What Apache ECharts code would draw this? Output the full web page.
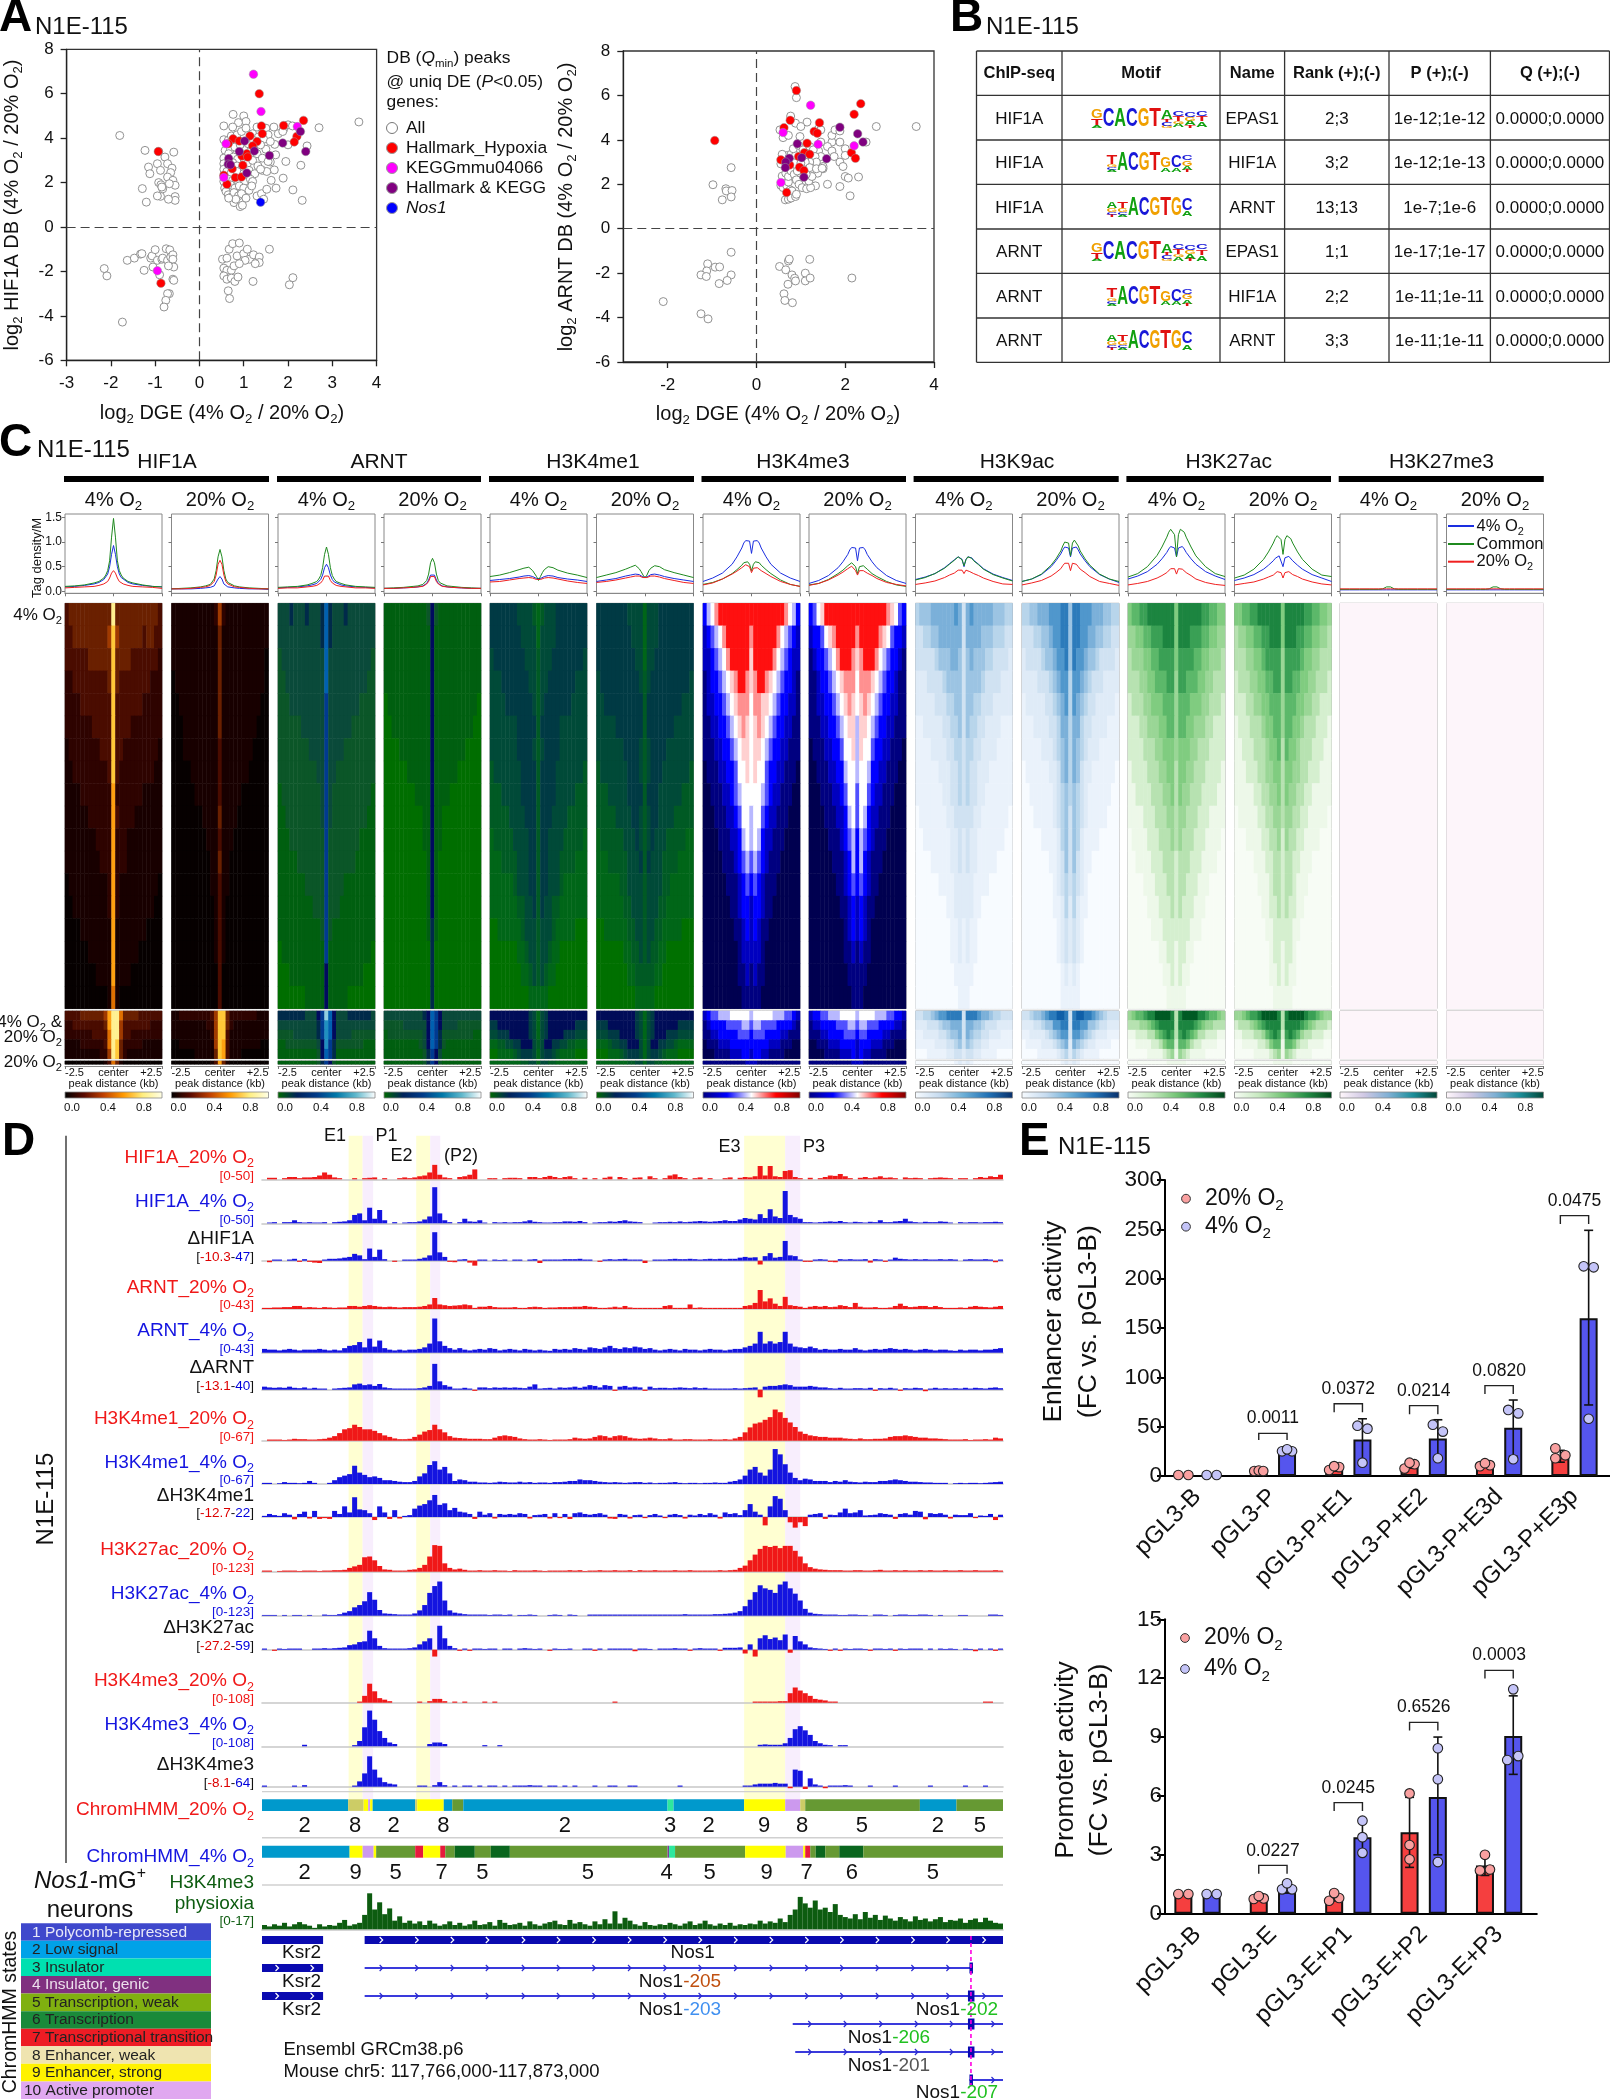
<!DOCTYPE html>
<html><head><meta charset="utf-8"><title>N1E-115</title>
<style>html,body{margin:0;padding:0;background:#fff}#c{width:1610px;height:2100px}</style>
<script src="https://cdn.jsdelivr.net/npm/echarts@6/dist/echarts.min.js"></script>
</head><body><div id="c"></div>
<script>
// ---------- Panel A: scatter values [log2 DGE, log2 DB] ----------
const a1Grey=[[-1.8,4.12],[-1.23,3.45],[-.92,3.4],[-.58,3.37],[-.78,3.15],[-1.15,2.7],[-.95,2.85],[-.72,2.85],[-.62,2.65],[-.88,2.55],[-.65,2.45],[-1.12,2.4],[-.72,2.25],[-.6,2.1],[-.55,1.88],[-.68,1.95],[-.92,2],[-.87,1.9],[-.83,1.72],[-1.29,1.73],[-.88,1.38],[-.95,1.4],[-.55,1.37],[-.55,1.2],[-.7,1.25],[-1.2,1.12],[-.85,1.8],
[-2.15,-1.87],[-2.09,-2.2],[-1.63,-1.5],[-1.47,-1.4],[-1.33,-1.22],[-1.3,-1.2],[-1.25,-1.95],[-1.1,-1.4],[-1.07,-1.3],[-1.05,-1.8],[-1,-1.02],[-.95,-1.5],[-.85,-1.45],[-.83,-1.4],[-.75,-.98],[-.67,-1.03],[-.72,-1.5],[-.65,-1.35],[-.6,-1.25],[-.6,-1.45],[-.58,-1.8],[-.7,-1.75],[-.9,-2.15],[-.6,-2.35],[-.58,-2.4],[-.68,-3],[-.72,-3],[-.76,-3.3],[-.8,-3.6],[-1.74,-4.28],
[.52,-1.45],[.62,-1.4],[.67,-1],[.75,-.75],[.9,-.72],[.85,-1.3],[1,-1.2],[1.08,-1],[1.13,-1.45],[1.03,-1.5],[1.22,-1.25],[1.35,-1.35],[1.35,-1.6],[1.26,-1.65],[1.58,-1],[.55,-1.85],[.62,-1.95],[.72,-1.95],[.78,-1.75],[.9,-1.65],[.55,-2.2],[.62,-2.35],[.72,-2.3],[.8,-2.45],[.87,-2.25],[1.21,-2.45],[.65,-2.87],[.68,-3.22],[2.03,-2.6],[2.11,-2.28],
[.76,5.07],[1,5],[1.05,4.75],[.88,4.7],[.55,4.55],[.75,4.5],[1.3,4.5],[1.5,4.45],[1.68,4.5],[1.9,4.4],[2,4.6],[2.1,4.55],[2.7,4.47],[3.6,4.73],[2.43,3.65],[2.29,2.78],[1.95,2.95],[1.89,2.2],[2.11,1.67],[2.32,1.2],[1.73,1.75],[1.62,2.1],[1.69,2.57],[1.6,2.93],[1.72,3.25],[1.7,3.72],[1.5,3.5],[1.55,4.15],[1.78,4.2],[1.88,4.3],[2,3.7],
[.55,3.93],[.65,3.9],[.72,4.1],[.85,4.15],[.95,4.3],[1.05,4.45],[1.2,4.2],[1.33,4.05],[1.45,3.95],[1.6,3.85],[.58,3.45],[.7,3.5],[.8,3.6],[.92,3.7],[1.1,3.75],[1.22,3.9],[1.38,3.7],[.55,3.1],[.66,3.3],[.77,3.15],[.86,3.05],[1,3.1],[1.15,3.4],[1.3,3.3],[1.42,3.1],[1.55,2.95],[.55,2.85],[.63,2.7],[.75,2.9],[.85,2.75],[.95,2.6],[1.08,2.85],[1.2,3],[1.32,2.75],[1.42,2.55],[1.52,2.5],[.55,2.6],[.62,2.5],[.72,2.45],[.85,2.5],[1,2.4],[1.12,2.55],[1.25,2.4],[1.38,2.6],[.55,2.05],[.65,2.15],[.75,2.1],[.88,2.05],[1.02,2.05],[1.15,2.15],[1.2,2.05],[.57,1.75],[.6,1.6],[.7,1.9],[.8,1.75],[.9,1.85],[1,1.75],[1.12,1.65],[1.18,1.85],[.65,1.45],[.72,1.35],[.78,1.55],[.88,1.4],[.95,1.5],[1.05,1.3],[.78,1.1],[.92,.92],[.97,.98],[.82,1.25],[.66,1.3],[1.3,1.4],[1.4,1.5],[1.45,1.25],[1.52,1.7]];
const a1Red=[[1.35,6],[1.4,4.55],[1.42,4.2],[1.14,4.1],[.76,3.97],[.65,3.75],[.9,3.87],[1.3,3.85],[1.2,3.65],[.96,3.2],[1.07,3.3],[1.09,3.15],[.98,2.78],[.74,2.62],[.81,2.23],[.95,2.25],[.55,2.33],[.62,1.92],[1.9,4.57],[2.35,4.8],[2.2,4.08],[2.14,3.83],[-.93,3.4],[-.87,-2.53]];
const a1Magenta=[[1.22,6.88],[1.39,5.2],[2.21,4.52],[.6,3.75],[.55,2.23],[-.95,-1.97]];
const a1Purple=[[2.28,4.3],[2.4,3.4],[1.88,3.78],[1.58,3.22],[1.24,3.42],[1.02,3.87],[.9,3.4],[.66,3.08],[.65,2.83],[.7,2.8],[1.07,2.43]];
const a1Blue=[[1.38,1.12]];
const a2Grey=[[-.57,2.75],[-.98,1.98],[-.69,1.8],[-.68,1.7],[-.55,1.72],[-.57,1.43],[-.77,1.3],
[-.57,-1.06],[-1.1,-1.58],[-1.12,-1.9],[-1.25,-2.08],[-1.13,-2.15],[-.93,-1.73],[-.83,-1.72],[-.57,-2.08],[-.66,-2.33],[-.84,-2.47],[-2.1,-3.28],[-1.25,-3.83],[-1.09,-4.06],
[.52,-1.7],[.66,-1.85],[.72,-1.45],[.74,-1.37],[1.2,-1.38],[.8,-2.08],[.86,-2.23],[.88,-2.35],[.71,-2.5],[1.1,-2],[1.1,-2.35],[1.21,-2.22],[2.15,-2.22],[.62,-2.93],[.64,-3.23],[.81,-3.33],
[.87,6.4],[.9,5.9],[.77,5.07],[.88,4.75],[1.14,4.8],[1,4.6],[.53,4.45],[.6,4.1],[.72,4.2],[.98,4.15],[1.4,4.5],[1.45,4.45],[1.45,3.9],[1.7,3.9],[1.6,3.7],[1.4,3.5],[1.45,3.25],[1.7,3.5],[1.75,3.25],[1.7,4.2],[1.77,4.45],[1.88,4.4],[1.88,3.9],[2,3.6],[2,3.3],[2.7,4.6],[3.6,4.6],[2.47,3.9],[1.88,3],[1.95,2.8],[2,2.35],[2.07,2.28],[2.3,2.33],[1.6,2],[1.88,1.9],[2.11,1.48],[1.33,1.93],[1.5,2.7],[1.5,2.8],[1.33,2.85],[1.38,2.65],[1.38,2.5],[1.2,2.6],
[.55,1.95],[.6,1.85],[.68,1.95],[.72,2.1],[.76,1.75],[.8,1.7],[.65,1.3],[.72,1.33],[.78,1.38],[.88,1.45],[.9,1.55],[.58,2.37],[.66,2.5],[.72,2.35],[.78,2.6],[.85,2.45],[.9,2.2],[.96,2],[1.03,1.85],[1.13,1.8],[1.22,1.85],[1.18,2.15],[1.25,2.35],[1.12,2.45],[1,2.5],[.55,2.92],[.62,3.05],[.7,3.3],[.78,3.35],[.88,3.3],[.58,3.35],[.83,3.6],[.95,3.75],[1.05,3.55],[1.2,3.7],[1.28,3.55],[1.32,3.25],[1.35,3],[1.2,3],[1.1,3],[1,2.95],[.92,2.6],[1.2,2.75],[1.35,2.7],[1.48,2.72]];
const a2Red=[[.9,6.22],[2.35,5.63],[2.2,5.15],[.76,4.88],[1.42,4.77],[.62,4.55],[1.3,4.38],[1.37,4.3],[1.14,3.85],[.95,3.25],[1.08,3.42],[1.2,3.35],[2.14,3.42],[2.23,3.17],[.55,3.1],[.75,2.87],[.97,2.77],[1.07,2.62],[.68,1.63],[-.94,3.97]];
const a2Magenta=[[1.22,5.56],[.6,4.33],[1.39,3.8],[2.2,3.73],[.55,2.08]];
const a2Purple=[[1.88,4.57],[2.28,4.27],[2.4,3.9],[.92,3.82],[.74,3.17],[.66,3],[.65,2.75],[1.02,3.2],[1.58,3.15],[1.07,2.32]];

// ---------- Panel B: table ----------
const tableHead=['ChIP-seq','Motif','Name','Rank (+);(-)','P (+);(-)','Q (+);(-)'];
const tableRows=[['HIF1A','EPAS1','2;3','1e-12;1e-12','0.0000;0.0000'],['HIF1A','HIF1A','3;2','1e-12;1e-13','0.0000;0.0000'],['HIF1A','ARNT','13;13','1e-7;1e-6','0.0000;0.0000'],['ARNT','EPAS1','1;1','1e-17;1e-17','0.0000;0.0000'],['ARNT','HIF1A','2;2','1e-11;1e-11','0.0000;0.0000'],['ARNT','ARNT','3;3','1e-11;1e-11','0.0000;0.0000']];
const motifEPAS=[[['G',.5],['T',.35],['A',.1]],[['C',1]],[['A',1]],[['C',1]],[['G',1]],[['T',1]],[['A',.5],['T',.1],['C',.2],['G',.1]],[['C',.3],['T',.25],['G',.15],['A',.2]],[['C',.3],['G',.2],['A',.25],['T',.1]],[['C',.3],['T',.3],['A',.3]]];
const motifHIF=[[['T',.5],['G',.15],['C',.15],['A',.1]],[['A',1]],[['C',1]],[['G',1]],[['T',1]],[['G',.55],['A',.2]],[['C',.6],['A',.2]],[['C',.3],['G',.3],['A',.2],['T',.1]]];
const motifARNT=[[['A',.35],['G',.2],['C',.15],['T',.1]],[['T',.35],['G',.2],['C',.15],['A',.1]],[['A',1]],[['C',1]],[['G',1]],[['T',1]],[['G',1]],[['C',.6],['A',.3]]];

// ---------- Panel C: average profiles, shared non-uniform x (kb) ----------
const profX=[-2.5,-2,-1.5,-1,-.75,-.5,-.4,-.3,-.2,-.1,0,.1,.2,.3,.4,.5,.75,1,1.5,2,2.5];
const prof_HIF1A_4_b=[.09,.1,.12,.15,.18,.24,.28,.35,.5,.75,.93,.75,.5,.35,.28,.24,.18,.15,.12,.1,.09];
const prof_HIF1A_4_g=[.1,.11,.13,.17,.2,.27,.33,.42,.62,1.1,1.48,1.1,.62,.42,.33,.27,.2,.17,.13,.1,.09];
const prof_HIF1A_4_r=[.07,.08,.09,.1,.12,.15,.17,.2,.27,.37,.42,.37,.27,.2,.17,.15,.12,.1,.09,.08,.06];
const prof_HIF1A_20_b=[.05,.05,.05,.06,.07,.08,.09,.11,.15,.25,.3,.25,.15,.11,.09,.08,.07,.06,.05,.05,.04];
const prof_HIF1A_20_g=[.05,.06,.07,.09,.11,.14,.18,.25,.42,.7,.85,.7,.42,.25,.18,.14,.11,.09,.07,.06,.05];
const prof_HIF1A_20_r=[.05,.05,.06,.08,.09,.12,.15,.2,.33,.55,.63,.55,.33,.2,.15,.12,.09,.08,.06,.05,.05];
const prof_ARNT_4_b=[.07,.08,.09,.11,.13,.16,.19,.24,.33,.48,.55,.48,.33,.24,.19,.16,.13,.11,.09,.08,.07];
const prof_ARNT_4_g=[.08,.09,.1,.13,.16,.2,.25,.32,.48,.75,.9,.75,.48,.32,.25,.2,.16,.13,.1,.09,.08];
const prof_ARNT_4_r=[.06,.07,.07,.09,.1,.12,.14,.17,.22,.31,.35,.31,.22,.17,.14,.12,.1,.09,.07,.07,.06];
const prof_ARNT_20_b=[.06,.06,.07,.08,.09,.11,.13,.16,.23,.33,.36,.33,.23,.16,.13,.11,.09,.08,.07,.06,.06];
const prof_ARNT_20_g=[.06,.07,.08,.1,.11,.14,.17,.22,.35,.58,.67,.58,.35,.22,.17,.14,.11,.1,.08,.07,.06];
const prof_ARNT_20_r=[.06,.06,.07,.08,.09,.1,.12,.15,.2,.3,.33,.3,.2,.15,.12,.1,.09,.08,.07,.06,.06];
const prof_me1_4_b=[.22,.24,.26,.29,.31,.32,.31,.3,.29,.26,.22,.26,.29,.3,.31,.32,.31,.28,.25,.23,.2];
const prof_me1_4_g=[.3,.33,.38,.44,.47,.49,.47,.42,.38,.3,.22,.3,.38,.44,.48,.5,.48,.43,.37,.33,.28];
const prof_me1_4_r=[.19,.2,.23,.26,.27,.28,.28,.27,.26,.24,.2,.24,.26,.27,.28,.28,.27,.25,.21,.18,.16];
const prof_me1_20_b=[.2,.23,.26,.31,.33,.35,.35,.34,.32,.29,.25,.29,.32,.34,.35,.35,.33,.3,.26,.23,.2];
const prof_me1_20_g=[.28,.33,.38,.45,.49,.53,.51,.46,.4,.33,.27,.33,.42,.47,.5,.52,.5,.44,.38,.33,.28];
const prof_me1_20_r=[.18,.2,.23,.27,.29,.31,.31,.31,.3,.28,.24,.28,.3,.31,.31,.31,.29,.26,.22,.18,.16];
const prof_me3_4_b=[.2,.27,.37,.55,.7,.88,.98,1.03,1.04,1.02,.77,1.02,1.04,1.03,.98,.88,.7,.55,.37,.27,.2];
const prof_me3_4_g=[.14,.18,.25,.36,.44,.53,.58,.6,.6,.55,.42,.55,.6,.6,.58,.53,.44,.36,.23,.14,.1];
const prof_me3_4_r=[.13,.17,.25,.35,.41,.48,.52,.54,.53,.5,.38,.47,.5,.48,.45,.42,.36,.3,.2,.14,.1];
const prof_me3_20_b=[.16,.22,.32,.48,.6,.75,.84,.89,.9,.88,.62,.88,.9,.89,.84,.75,.6,.48,.32,.22,.16];
const prof_me3_20_g=[.13,.16,.24,.36,.43,.52,.56,.58,.58,.5,.36,.5,.52,.52,.5,.45,.36,.3,.2,.13,.1];
const prof_me3_20_r=[.12,.16,.23,.33,.39,.46,.49,.51,.48,.42,.33,.42,.42,.42,.4,.37,.32,.26,.18,.14,.11];
const prof_K9_4_b=[.24,.29,.36,.48,.56,.64,.68,.7,.7,.65,.5,.65,.7,.7,.68,.63,.55,.46,.35,.28,.22];
const prof_K9_4_g=[.23,.28,.36,.47,.55,.63,.67,.7,.7,.64,.52,.64,.7,.7,.67,.62,.54,.45,.34,.27,.21];
const prof_K9_4_r=[.14,.17,.21,.28,.33,.37,.4,.43,.44,.43,.36,.43,.42,.4,.38,.36,.32,.27,.2,.15,.14];
const prof_K9_20_b=[.2,.25,.34,.5,.62,.76,.84,.9,.92,.88,.7,.88,.92,.9,.84,.76,.62,.5,.34,.25,.18];
const prof_K9_20_g=[.2,.25,.35,.53,.66,.82,.92,1,1.04,.98,.72,.98,1.04,1,.92,.82,.66,.53,.35,.25,.2];
const prof_K9_20_r=[.13,.17,.22,.31,.38,.46,.52,.57,.6,.57,.42,.57,.58,.55,.5,.45,.38,.3,.2,.16,.12];
const prof_K27_4_b=[.25,.31,.4,.55,.66,.79,.86,.91,.92,.88,.7,.88,.92,.91,.86,.79,.66,.55,.4,.31,.24];
const prof_K27_4_g=[.29,.36,.5,.73,.9,1.1,1.2,1.26,1.26,1.15,.7,1.15,1.26,1.26,1.2,1.1,.9,.72,.5,.36,.3];
const prof_K27_4_r=[.13,.16,.2,.27,.32,.38,.42,.46,.48,.46,.35,.46,.49,.45,.42,.38,.32,.25,.18,.14,.12];
const prof_K27_20_b=[.22,.27,.34,.45,.53,.62,.67,.71,.72,.68,.5,.68,.72,.71,.67,.62,.53,.45,.34,.27,.2];
const prof_K27_20_g=[.27,.33,.45,.65,.8,.98,1.07,1.13,1.13,1.05,.75,1.05,1.13,1.13,1.07,.98,.8,.65,.45,.33,.3];
const prof_K27_20_r=[.13,.16,.19,.25,.29,.33,.37,.4,.41,.38,.27,.38,.42,.4,.37,.34,.3,.25,.19,.15,.13];
const prof_me3K27_b=[.03,.03,.03,.03,.03,.03,.03,.03,.03,.03,.04,.03,.03,.03,.03,.03,.03,.03,.03,.03,.03];
const prof_me3K27_g=[.04,.04,.04,.04,.04,.04,.04,.05,.07,.09,.11,.09,.07,.05,.04,.04,.04,.04,.04,.04,.04];
const prof_me3K27_r=[.05,.05,.05,.05,.05,.05,.05,.05,.05,.05,.05,.05,.05,.05,.05,.05,.05,.05,.05,.05,.05];

// ---------- Panel C: heatmaps (levels 0-9, rows top to bottom, columns -2.5..+2.5 kb) ----------
const heat_HIF1A_4=[[3,4,4,4,4,4,4,4,4,4,4,4,9,4,4,4,4,4,4,4,4,4,4,4,3],[3,3,4,4,4,4,4,4,4,4,4,5,8,5,4,4,4,4,4,4,3,4,4,3,3],[3,3,3,3,3,3,4,4,4,4,4,4,8,4,4,4,4,3,3,3,3,3,3,3,2],[2,2,3,3,3,3,3,3,3,3,3,4,8,4,3,3,3,3,3,3,3,3,2,2,2],[2,2,2,2,3,3,3,3,3,3,3,3,8,3,3,3,3,3,3,3,2,2,2,2,2],[2,2,2,2,2,2,2,3,3,3,3,3,8,3,3,3,3,2,2,2,2,2,2,2,2],[1,2,2,2,2,2,2,2,2,3,3,3,8,3,3,2,2,2,2,2,2,2,2,2,1],[1,1,2,2,2,2,2,2,2,2,2,3,8,3,2,2,2,2,2,2,2,2,2,1,1],[1,1,1,1,2,2,2,2,2,2,2,2,7,2,2,2,2,2,2,2,1,1,1,1,1],[1,1,1,1,1,1,2,2,2,2,2,2,7,3,2,2,2,2,1,1,1,1,1,1,1],[1,1,1,1,1,1,1,1,2,2,2,2,7,2,2,2,1,1,1,1,1,1,1,1,1],[1,1,1,1,1,1,1,1,1,2,2,2,7,2,2,2,1,1,1,1,1,1,1,1,1],[0,1,1,1,1,1,1,1,1,1,1,2,7,2,1,1,1,1,1,1,1,1,1,1,0],[0,0,1,1,1,1,1,1,1,1,1,2,7,2,1,1,1,1,1,1,1,1,1,0,0],[0,0,0,0,1,1,1,1,1,1,1,1,7,1,1,1,1,1,1,1,1,0,0,0,0],[0,0,0,0,0,0,1,1,1,1,1,1,7,1,1,1,1,1,1,0,0,0,0,0,0],[0,0,0,0,0,0,0,0,1,1,1,1,7,1,1,1,1,0,0,0,0,0,0,0,0],[0,0,0,0,0,0,0,0,0,0,0,1,6,1,0,0,0,0,0,0,0,0,0,0,0]];
const heat_HIF1A_20=[[1,1,1,1,1,1,1,1,1,1,1,2,5,2,1,1,1,1,1,1,1,1,1,1,1],[1,1,1,1,1,1,1,1,1,1,1,1,4,1,1,1,1,1,1,1,1,1,1,1,1],[1,1,1,1,1,1,1,1,1,1,1,1,4,1,1,1,1,1,1,1,1,1,1,1,0],[0,1,1,1,1,1,1,1,1,1,1,1,4,1,1,1,1,1,1,1,1,1,1,1,0],[0,0,1,1,1,1,1,1,1,1,1,1,4,1,1,1,1,1,1,1,1,1,1,0,0],[0,0,0,1,1,1,1,1,1,1,1,1,4,1,1,1,1,1,1,1,1,1,0,0,0],[0,0,0,1,1,1,1,1,1,1,1,1,3,1,1,1,1,1,1,1,1,0,0,0,0],[0,0,0,0,0,1,1,1,1,1,1,1,3,1,1,1,1,1,1,1,0,0,0,0,0],[0,0,0,0,0,0,1,1,1,1,1,1,3,1,1,1,1,1,0,0,0,0,0,0,0],[0,0,0,0,0,0,0,0,1,1,1,1,4,1,1,1,1,0,0,0,0,0,0,0,0],[0,0,0,0,0,0,0,0,0,1,1,1,3,1,1,1,0,0,0,0,0,0,0,0,0],[0,0,0,0,0,0,0,0,0,0,1,1,4,1,1,0,0,0,0,0,0,0,0,0,0],[0,0,0,0,0,0,0,0,0,0,1,1,3,1,1,0,0,0,0,0,0,0,0,0,0],[0,0,0,0,0,0,0,0,0,0,0,1,3,1,0,0,0,0,0,0,0,0,0,0,0],[0,0,0,0,0,0,0,0,0,0,0,1,3,1,0,0,0,0,0,0,0,0,0,0,0],[0,0,0,0,0,0,0,0,0,0,0,1,3,1,0,0,0,0,0,0,0,0,0,0,0],[0,0,0,0,0,0,0,0,0,0,0,0,3,0,0,0,0,0,0,0,0,0,0,0,0],[0,0,0,0,0,0,0,0,0,0,0,0,3,0,0,0,0,0,0,0,0,0,0,0,0]];
const heat_ARNT_4=[[3,3,3,4,3,3,3,4,3,3,3,4,7,4,3,3,3,4,3,3,3,3,3,3,3],[3,3,3,3,3,3,3,3,3,3,3,4,7,4,3,3,3,3,3,3,3,3,3,3,3],[2,3,3,3,3,3,3,3,3,3,3,3,7,3,3,3,3,3,3,3,3,3,3,3,2],[2,2,3,3,3,3,3,3,3,3,3,3,7,3,3,3,3,3,3,3,3,3,3,2,2],[2,2,2,3,3,3,3,3,3,3,3,3,6,3,3,3,3,3,3,3,3,2,2,2,2],[2,2,2,2,2,2,3,3,3,3,3,3,6,3,3,3,3,3,3,2,2,2,2,2,2],[2,2,2,2,2,2,2,2,3,3,3,3,6,3,3,3,3,2,2,2,2,2,2,2,2],[2,2,2,2,2,2,2,2,2,2,3,3,6,3,3,2,2,2,2,2,2,2,2,2,2],[1,2,2,2,2,2,2,2,2,2,2,3,6,3,2,2,2,2,2,2,2,2,2,2,1],[1,1,2,2,2,2,2,2,2,2,2,3,6,3,2,2,2,2,2,2,2,2,2,1,1],[1,1,1,2,2,2,2,2,2,2,2,2,6,2,2,2,2,2,2,2,2,1,1,1,1],[1,1,1,1,1,2,2,2,2,2,2,2,6,2,2,2,2,2,2,2,1,1,1,1,1],[1,1,1,1,1,1,1,2,2,2,2,2,6,2,2,2,2,1,1,1,1,1,1,1,1],[1,1,1,1,1,1,1,1,1,2,2,2,6,2,2,2,1,1,1,1,1,1,1,1,1],[1,1,1,1,1,1,1,1,1,1,1,2,6,2,1,1,1,1,1,1,1,1,1,1,1],[0,1,1,1,1,1,1,1,1,1,1,1,6,1,1,1,1,1,1,1,1,1,1,1,0],[0,0,0,1,1,1,1,1,1,1,1,1,5,1,1,1,1,1,1,1,1,1,0,0,0],[0,0,0,0,0,0,0,1,1,1,1,1,5,1,1,1,1,1,0,0,0,0,0,0,0]];
const heat_ARNT_20=[[1,1,1,1,1,1,1,1,1,1,1,2,5,2,1,1,1,1,1,1,1,1,1,1,1],[1,1,1,1,1,1,1,1,1,1,1,1,5,1,1,1,1,1,1,1,1,1,1,1,1],[1,1,1,1,1,1,1,1,1,1,1,1,5,1,1,1,1,1,1,1,1,1,1,1,1],[1,1,1,1,1,1,1,1,1,1,1,1,5,1,1,1,1,1,1,1,1,1,1,1,1],[0,1,1,1,1,1,1,1,1,1,1,1,5,1,1,1,1,1,1,1,1,1,1,1,0],[0,0,1,1,1,1,1,1,1,1,1,1,5,1,1,1,1,1,1,1,1,1,1,0,0],[0,0,0,0,1,1,1,1,1,1,1,1,5,1,1,1,1,1,1,1,1,0,0,0,0],[0,0,0,0,0,0,1,1,1,1,1,1,5,1,1,1,1,1,1,0,0,0,0,0,0],[0,0,0,0,0,0,0,0,1,1,1,1,5,1,1,1,1,0,0,0,0,0,0,0,0],[0,0,0,0,0,0,0,0,0,0,1,1,5,1,1,0,0,0,0,0,0,0,0,0,0],[0,0,0,0,0,0,0,0,0,0,1,1,5,1,1,0,0,0,0,0,0,0,0,0,0],[0,0,0,0,0,0,0,0,0,0,0,1,5,1,0,0,0,0,0,0,0,0,0,0,0],[0,0,0,0,0,0,0,0,0,0,0,1,5,1,0,0,0,0,0,0,0,0,0,0,0],[0,0,0,0,0,0,0,0,0,0,0,1,5,1,0,0,0,0,0,0,0,0,0,0,0],[0,0,0,0,0,0,0,0,0,0,0,1,4,1,0,0,0,0,0,0,0,0,0,0,0],[0,0,0,0,0,0,0,0,0,0,0,0,4,0,0,0,0,0,0,0,0,0,0,0,0],[0,0,0,0,0,0,0,0,0,0,0,0,4,0,0,0,0,0,0,0,0,0,0,0,0],[0,0,0,0,0,0,0,0,0,0,0,0,4,0,0,0,0,0,0,0,0,0,0,0,0]];
const heat_me1_4=[[4,4,4,4,4,4,4,3,3,3,3,2,1,2,3,3,3,4,4,4,4,4,4,4,4],[4,4,4,4,4,4,4,4,3,3,3,3,1,3,3,3,3,4,4,4,4,4,4,4,4],[3,4,4,4,4,4,4,4,4,3,3,3,2,3,3,3,4,4,4,4,4,4,4,4,3],[3,3,3,4,4,4,4,4,4,4,3,3,2,3,3,4,4,4,4,4,4,4,3,3,3],[3,3,3,3,4,4,4,4,4,4,4,3,2,3,4,4,4,4,4,4,4,3,3,3,3],[3,3,3,3,3,3,3,4,4,4,4,4,2,4,4,4,4,4,3,3,3,3,3,3,3],[3,3,3,3,3,3,3,4,4,4,4,3,2,3,4,4,4,4,3,3,3,3,3,3,3],[2,3,3,3,3,3,3,3,4,4,4,4,2,4,4,4,4,3,3,3,3,3,3,3,2],[2,2,2,3,3,3,3,3,4,4,4,4,2,4,4,4,4,3,3,3,3,3,2,2,2],[2,2,2,2,2,3,3,3,3,4,4,4,2,4,4,4,3,3,3,3,2,2,2,2,2],[1,2,2,2,2,2,3,3,3,3,4,4,2,4,4,3,3,3,3,2,2,2,2,2,1],[1,1,1,2,2,2,2,3,3,3,4,4,2,4,4,3,3,3,2,2,2,2,1,1,1],[1,1,1,1,1,1,2,3,3,3,4,4,2,4,4,3,3,3,2,1,1,1,1,1,1],[1,1,1,1,1,1,1,2,2,3,3,4,2,4,3,3,2,2,1,1,1,1,1,1,1],[0,0,1,1,1,1,1,1,2,3,3,3,2,3,3,3,2,1,1,1,1,1,0,0,0],[0,0,0,0,0,0,0,1,1,2,3,3,2,3,3,2,1,1,0,0,0,0,0,0,0],[0,0,0,0,0,0,0,0,1,1,2,3,2,3,2,1,1,0,0,0,0,0,0,0,0],[0,0,0,0,0,0,0,0,0,0,1,1,1,1,1,0,0,0,0,0,0,0,0,0,0]];
const heat_me1_20=[[4,4,4,4,4,4,4,4,3,3,3,3,1,3,3,3,4,4,4,4,4,4,4,4,4],[4,4,4,4,4,4,4,4,4,3,3,3,1,3,3,3,4,4,4,4,4,4,4,4,4],[4,4,4,4,4,4,4,4,4,4,3,3,1,3,3,4,4,4,4,4,4,4,4,4,4],[3,4,4,4,4,4,4,4,4,4,4,3,2,3,4,4,4,4,4,4,4,4,4,4,3],[3,3,4,4,4,4,4,4,4,4,4,4,2,4,4,4,4,4,4,4,4,4,3,3,3],[3,3,3,3,3,4,4,4,4,4,4,4,2,4,4,4,4,4,4,4,3,3,3,3,3],[3,3,3,3,3,3,3,4,4,4,4,3,2,3,4,4,4,4,3,3,3,3,3,3,3],[2,3,3,3,3,3,3,3,4,4,4,3,2,3,4,4,4,3,3,3,3,3,3,3,2],[2,2,2,3,3,3,3,3,4,4,4,4,2,4,4,4,3,3,3,3,3,3,2,2,2],[2,2,2,2,2,3,3,3,3,4,4,3,2,3,4,4,3,3,3,3,2,2,2,2,2],[1,2,2,2,2,2,2,3,3,3,4,3,2,3,4,3,3,3,2,2,2,2,2,1,1],[1,1,1,2,2,2,2,2,3,3,3,4,2,4,3,3,3,2,2,2,2,1,1,1,1],[1,1,1,1,1,1,2,2,3,3,3,3,2,3,3,3,3,2,2,1,1,1,1,1,1],[1,1,1,1,1,1,1,2,2,3,3,3,2,3,3,3,2,2,1,1,1,1,1,1,1],[0,0,1,1,1,1,1,1,2,2,3,3,2,3,3,2,2,1,1,1,1,1,0,0,0],[0,0,0,0,0,0,0,1,1,2,2,3,2,3,2,2,1,1,0,0,0,0,0,0,0],[0,0,0,0,0,0,0,0,1,1,2,2,2,2,2,1,1,0,0,0,0,0,0,0,0],[0,0,0,0,0,0,0,0,0,0,1,1,1,1,1,0,0,0,0,0,0,0,0,0,0]];
const heat_me3_4=[[3,5,6,8,9,9,9,9,9,9,9,9,9,9,9,9,9,9,9,9,9,8,6,5,3],[2,3,4,5,6,8,9,9,9,9,9,9,8,9,9,9,9,9,9,8,6,5,4,3,2],[2,2,3,4,5,6,8,9,9,9,9,9,7,9,9,9,9,9,8,6,5,4,3,2,2],[1,2,3,3,4,5,6,7,8,9,9,8,7,8,9,9,8,7,6,5,4,3,3,2,1],[1,2,2,3,3,4,5,6,7,8,8,8,6,8,8,7,7,6,5,4,3,3,2,2,1],[1,1,2,2,3,3,4,5,6,7,8,7,6,7,8,7,6,5,4,3,3,2,2,1,1],[1,1,1,2,2,3,3,4,5,6,7,7,6,7,7,6,5,4,3,3,2,2,1,1,1],[0,1,1,1,2,2,3,3,4,6,6,7,6,7,6,6,4,3,3,2,2,1,1,1,0],[0,0,1,1,1,2,2,3,4,5,6,6,6,6,6,5,4,3,2,2,1,1,1,0,0],[0,0,0,1,1,1,2,2,3,4,6,6,5,6,6,4,3,2,2,1,1,1,0,0,0],[0,0,0,0,1,1,1,2,2,3,5,6,5,6,5,3,2,2,1,1,1,0,0,0,0],[0,0,0,0,0,1,1,1,2,3,4,5,4,5,4,3,2,1,1,1,0,0,0,0,0],[0,0,0,0,0,0,1,1,1,2,3,4,3,4,3,2,1,1,1,0,0,0,0,0,0],[0,0,0,0,0,0,0,1,1,2,3,3,2,3,3,2,1,1,0,0,0,0,0,0,0],[0,0,0,0,0,0,0,0,1,1,2,3,2,3,2,1,1,0,0,0,0,0,0,0,0],[0,0,0,0,0,0,0,0,0,1,2,2,2,2,2,1,0,0,0,0,0,0,0,0,0],[0,0,0,0,0,0,0,0,0,1,1,2,1,2,1,1,0,0,0,0,0,0,0,0,0],[0,0,0,0,0,0,0,0,0,0,1,1,1,1,1,0,0,0,0,0,0,0,0,0,0]];
const heat_me3_20=[[3,4,6,7,9,9,9,9,9,9,9,9,9,9,9,9,9,9,9,9,8,7,6,4,3],[2,3,3,4,6,7,8,9,9,9,9,9,8,9,9,9,9,9,8,7,6,4,3,3,2],[1,2,3,3,4,5,6,8,9,9,9,8,7,8,9,9,9,8,6,5,4,3,3,2,1],[1,1,2,3,3,4,5,6,7,8,8,8,6,8,8,8,7,6,5,4,3,3,2,1,1],[1,1,2,2,3,3,4,5,6,7,8,7,6,7,8,7,6,5,4,3,3,2,2,1,1],[1,1,1,2,2,3,3,4,5,6,7,7,5,7,7,6,5,4,3,3,2,2,1,1,1],[0,1,1,1,2,2,3,3,4,6,6,7,5,7,6,6,4,3,3,2,2,1,1,1,0],[0,0,1,1,1,2,2,3,3,5,6,6,5,6,6,5,3,3,2,2,1,1,1,0,0],[0,0,0,1,1,1,2,2,3,4,6,6,4,6,6,4,3,2,2,1,1,1,0,0,0],[0,0,0,0,1,1,1,2,2,3,5,6,4,6,5,3,2,2,1,1,1,0,0,0,0],[0,0,0,0,0,1,1,1,2,3,4,5,3,5,4,3,2,1,1,1,0,0,0,0,0],[0,0,0,0,0,0,1,1,1,2,3,5,3,5,3,2,1,1,1,0,0,0,0,0,0],[0,0,0,0,0,0,0,1,1,2,3,4,3,4,3,2,1,1,0,0,0,0,0,0,0],[0,0,0,0,0,0,0,0,1,1,2,3,2,3,2,1,1,0,0,0,0,0,0,0,0],[0,0,0,0,0,0,0,0,0,1,2,3,2,3,2,1,0,0,0,0,0,0,0,0,0],[0,0,0,0,0,0,0,0,0,1,1,2,1,2,1,1,0,0,0,0,0,0,0,0,0],[0,0,0,0,0,0,0,0,0,0,1,1,1,1,1,0,0,0,0,0,0,0,0,0,0],[0,0,0,0,0,0,0,0,0,0,0,1,1,1,0,0,0,0,0,0,0,0,0,0,0]];
const heat_K9_4=[[4,5,5,5,6,6,6,6,6,6,7,6,3,6,7,6,6,6,6,6,5,5,5,4,4],[3,3,4,4,5,5,6,6,6,6,6,6,3,6,6,6,6,5,5,5,4,4,4,3,3],[3,3,3,3,3,4,5,5,5,6,6,5,3,5,6,5,5,5,4,4,3,3,3,3,2],[2,2,2,3,3,3,3,4,5,5,5,5,3,5,5,5,5,4,3,3,3,3,2,2,2],[2,2,2,2,2,3,3,3,4,4,5,5,3,5,5,4,4,3,3,3,2,2,2,2,2],[1,1,2,2,2,2,2,3,3,4,4,5,3,5,4,4,3,3,2,2,2,2,1,1,1],[1,1,1,1,2,2,2,2,3,3,4,4,3,4,4,3,3,2,2,2,2,1,1,1,1],[1,1,1,1,1,1,2,2,2,3,3,4,3,4,3,3,2,2,2,1,1,1,1,1,1],[1,1,1,1,1,1,1,2,2,3,3,4,3,4,3,3,2,2,1,1,1,1,1,1,1],[0,1,1,1,1,1,1,1,2,2,3,3,3,3,3,2,2,1,1,1,1,1,1,1,0],[0,0,1,1,1,1,1,1,1,2,2,3,2,3,2,2,1,1,1,1,1,1,1,0,0],[0,0,0,0,1,1,1,1,1,2,2,3,2,3,2,2,1,1,1,1,1,0,0,0,0],[0,0,0,0,0,0,1,1,1,1,2,2,2,2,2,1,1,1,1,0,0,0,0,0,0],[0,0,0,0,0,0,0,0,1,1,2,2,2,2,2,1,1,0,0,0,0,0,0,0,0],[0,0,0,0,0,0,0,0,0,1,1,2,1,2,1,1,0,0,0,0,0,0,0,0,0],[0,0,0,0,0,0,0,0,0,1,1,2,1,2,1,1,0,0,0,0,0,0,0,0,0],[0,0,0,0,0,0,0,0,0,0,1,1,1,1,1,0,0,0,0,0,0,0,0,0,0],[0,0,0,0,0,0,0,0,0,0,0,1,1,1,0,0,0,0,0,0,0,0,0,0,0]];
const heat_K9_20=[[4,4,5,5,6,6,6,7,7,7,8,8,5,8,8,7,7,7,6,6,6,5,5,4,4],[3,3,3,4,4,5,5,6,7,7,8,8,5,8,8,7,7,6,6,5,5,4,4,3,3],[2,3,3,3,3,4,5,5,6,7,7,8,5,8,7,7,6,5,5,4,3,3,3,3,2],[2,2,2,2,3,3,3,4,5,6,7,7,4,7,7,6,5,4,3,3,3,2,2,2,2],[1,2,2,2,2,2,3,3,4,5,6,7,4,7,6,5,4,3,3,2,2,2,2,2,1],[1,1,1,2,2,2,2,3,3,4,6,6,4,6,6,4,3,3,2,2,2,2,1,1,1],[1,1,1,1,1,2,2,2,3,4,5,6,4,6,5,4,3,2,2,2,1,1,1,1,1],[0,1,1,1,1,1,1,2,2,3,5,6,4,6,5,3,2,2,1,1,1,1,1,1,0],[0,0,1,1,1,1,1,1,2,3,4,5,4,5,4,3,2,1,1,1,1,1,1,0,0],[0,0,0,1,1,1,1,1,2,3,4,5,3,5,4,3,2,1,1,1,1,1,0,0,0],[0,0,0,0,0,1,1,1,1,2,4,5,3,5,4,2,1,1,1,1,0,0,0,0,0],[0,0,0,0,0,0,0,1,1,2,3,5,3,5,3,2,1,1,0,0,0,0,0,0,0],[0,0,0,0,0,0,0,0,1,2,3,4,3,4,3,2,1,0,0,0,0,0,0,0,0],[0,0,0,0,0,0,0,0,1,1,2,4,2,4,2,1,1,0,0,0,0,0,0,0,0],[0,0,0,0,0,0,0,0,0,1,2,3,2,3,2,1,0,0,0,0,0,0,0,0,0],[0,0,0,0,0,0,0,0,0,1,2,3,2,3,2,1,0,0,0,0,0,0,0,0,0],[0,0,0,0,0,0,0,0,0,0,1,2,1,2,1,0,0,0,0,0,0,0,0,0,0],[0,0,0,0,0,0,0,0,0,0,1,1,1,1,1,0,0,0,0,0,0,0,0,0,0]];
const heat_K27_4=[[5,6,6,7,7,8,8,8,8,8,8,8,5,8,8,8,8,8,8,7,7,6,6,5,5],[4,4,5,5,6,6,7,7,7,8,8,8,5,8,8,8,7,7,7,6,6,5,5,4,4],[3,4,4,4,5,5,6,6,7,7,7,7,5,7,7,7,7,6,6,5,5,4,4,4,3],[3,3,3,4,4,5,5,6,6,6,7,7,4,7,7,6,6,6,5,5,4,4,3,3,3],[2,3,3,3,4,4,5,5,5,6,6,6,4,6,6,6,5,5,5,4,4,3,3,3,2],[2,2,2,3,3,4,4,4,5,5,6,6,4,6,6,5,5,4,4,4,3,3,2,2,2],[2,2,2,2,3,3,3,4,4,5,5,5,4,5,5,5,4,4,3,3,3,2,2,2,2],[1,2,2,2,2,3,3,3,4,4,5,5,3,5,5,4,4,3,3,3,2,2,2,2,1],[1,1,2,2,2,2,3,3,3,4,4,5,3,5,4,4,3,3,3,2,2,2,2,1,1],[1,1,1,1,2,2,2,3,3,3,4,4,3,4,4,3,3,3,2,2,2,1,1,1,1],[0,1,1,1,1,2,2,2,3,3,3,4,3,4,3,3,3,2,2,2,1,1,1,1,0],[0,0,1,1,1,1,2,2,2,3,3,3,2,3,3,3,2,2,2,1,1,1,1,0,0],[0,0,0,0,1,1,1,2,2,2,3,3,2,3,3,2,2,2,1,1,1,0,0,0,0],[0,0,0,0,0,1,1,1,2,2,2,3,2,3,2,2,2,1,1,1,0,0,0,0,0],[0,0,0,0,0,0,1,1,1,2,2,2,2,2,2,2,1,1,1,0,0,0,0,0,0],[0,0,0,0,0,0,0,0,1,1,2,2,1,2,2,1,1,0,0,0,0,0,0,0,0],[0,0,0,0,0,0,0,0,0,1,1,2,1,2,1,1,0,0,0,0,0,0,0,0,0],[0,0,0,0,0,0,0,0,0,0,1,1,1,1,1,0,0,0,0,0,0,0,0,0,0]];
const heat_K27_20=[[5,5,6,6,7,7,8,8,8,8,8,8,5,8,8,8,8,8,7,7,6,6,5,5,4],[3,4,4,5,5,6,6,7,7,8,8,8,5,8,8,8,7,7,6,6,5,5,4,4,3],[3,3,3,4,4,5,5,6,7,7,7,7,4,7,7,7,7,6,5,5,4,4,3,3,3],[2,3,3,3,4,4,5,5,6,6,7,7,4,7,7,6,6,5,5,4,4,3,3,3,2],[2,2,2,3,3,4,4,5,5,6,6,6,4,6,6,6,5,5,4,4,3,3,2,2,2],[1,2,2,2,3,3,3,4,5,5,6,6,4,6,6,5,5,4,3,3,3,2,2,2,1],[1,1,2,2,2,3,3,3,4,5,5,6,3,6,5,5,4,3,3,3,2,2,2,1,1],[1,1,1,2,2,2,3,3,4,4,5,5,3,5,5,4,4,3,3,2,2,2,1,1,1],[1,1,1,1,1,2,2,3,3,4,4,5,3,5,4,4,3,3,2,2,1,1,1,1,1],[0,1,1,1,1,1,2,2,3,3,4,4,3,4,4,3,3,2,2,1,1,1,1,1,0],[0,0,0,1,1,1,1,2,2,3,3,4,2,4,3,3,2,2,1,1,1,1,0,0,0],[0,0,0,0,0,1,1,1,2,2,3,3,2,3,3,2,2,1,1,1,0,0,0,0,0],[0,0,0,0,0,0,1,1,1,2,3,3,2,3,3,2,1,1,1,0,0,0,0,0,0],[0,0,0,0,0,0,0,1,1,2,2,3,2,3,2,2,1,1,0,0,0,0,0,0,0],[0,0,0,0,0,0,0,0,1,1,2,2,2,2,2,1,1,0,0,0,0,0,0,0,0],[0,0,0,0,0,0,0,0,0,1,2,2,1,2,2,1,0,0,0,0,0,0,0,0,0],[0,0,0,0,0,0,0,0,0,1,1,2,1,2,1,1,0,0,0,0,0,0,0,0,0],[0,0,0,0,0,0,0,0,0,0,1,1,1,1,1,0,0,0,0,0,0,0,0,0,0]];
const heat_K27me3=[[0]];
// common-peak block (5 rows)
const common_HIF1A_4=[[3,3,3,3,4,4,4,4,4,4,5,7,9,9,6,4,4,4,4,3,3,3,3,3,3],[2,2,3,3,3,3,3,3,3,3,4,7,9,9,5,3,3,3,3,3,3,3,2,2,2],[2,2,2,2,2,2,2,3,3,3,3,6,9,9,5,3,3,2,2,2,2,2,2,2,2],[1,1,1,1,2,2,2,2,2,2,3,6,9,8,4,2,2,2,2,2,1,1,1,1,1],[1,1,1,1,1,1,1,1,1,2,2,5,9,8,4,2,1,1,1,1,1,1,1,1,1]];
const common_HIF1A_20=[[1,1,2,2,2,2,2,2,2,2,3,5,8,8,4,2,2,2,2,2,2,2,1,1,1],[1,1,1,1,1,1,1,1,1,2,2,5,8,8,4,2,1,1,1,1,1,1,1,1,1],[1,1,1,1,1,1,1,1,1,1,2,5,8,8,3,1,1,1,1,1,1,1,1,1,1],[0,0,1,1,1,1,1,1,1,1,1,5,8,7,3,1,1,1,1,1,1,1,1,0,0],[0,0,0,0,0,0,1,1,1,1,1,4,8,7,3,1,1,1,0,0,0,0,0,0,0]];
const common_ARNT_4=[[4,4,4,4,4,4,4,3,3,3,5,6,9,7,5,3,3,3,4,4,4,4,4,4,3],[3,3,3,3,3,3,3,3,3,3,4,6,8,7,5,3,3,3,3,3,3,3,3,3,3],[2,2,2,2,3,3,3,3,3,3,4,6,8,7,5,3,3,3,3,2,2,2,2,2,2],[1,1,2,2,2,2,2,2,2,2,3,5,8,6,4,2,2,2,2,2,2,2,1,1,1],[1,1,1,1,1,1,1,1,1,1,2,5,7,6,4,1,1,1,1,1,1,1,1,1,1]];
const common_ARNT_20=[[3,3,3,3,3,3,3,3,3,3,4,5,7,6,5,3,3,3,3,3,3,3,3,3,3],[2,2,2,2,2,3,3,3,3,3,3,5,7,6,5,3,3,3,3,2,2,2,2,2,2],[1,2,2,2,2,2,2,2,2,2,3,5,7,6,4,2,2,2,2,2,2,2,2,1,1],[1,1,1,1,1,1,1,1,1,2,3,5,7,6,4,2,1,1,1,1,1,1,1,1,1],[1,1,1,1,1,1,1,1,1,1,2,4,6,5,3,1,1,1,1,1,1,1,1,1,1]];
const common_me1_4=[[5,5,5,5,5,5,5,5,5,5,4,3,1,3,4,5,5,5,5,5,5,5,5,5,5],[4,4,5,5,5,5,5,5,5,5,4,3,1,3,4,5,5,5,5,5,5,5,4,4,4],[3,3,4,4,4,5,5,5,5,5,4,3,1,3,4,5,5,5,5,4,4,4,3,3,3],[1,1,2,2,3,3,4,4,5,5,5,3,2,3,5,5,4,4,3,3,2,2,1,1,1],[0,0,1,1,1,1,2,3,4,4,4,3,1,3,4,4,3,2,1,1,1,1,0,0,0]];
const common_me1_20=[[5,5,5,5,5,5,5,5,5,5,4,3,1,3,4,5,5,5,5,5,5,5,5,5,5],[4,4,4,5,5,5,5,5,5,5,4,3,1,3,4,5,5,5,5,5,5,4,4,4,4],[3,3,3,4,4,4,5,5,5,5,4,3,1,3,4,5,5,5,4,4,4,3,3,3,3],[1,1,1,2,3,3,4,4,5,5,5,3,1,3,5,5,4,4,3,3,2,1,1,1,1],[0,0,0,1,1,1,2,3,4,4,4,3,1,3,4,4,3,2,1,1,1,0,0,0,0]];
const common_me3_4=[[2,3,4,4,5,5,5,6,6,6,6,6,5,6,6,6,6,6,5,5,5,4,4,3,2],[1,2,3,3,3,3,4,4,4,4,5,5,4,5,5,4,4,4,4,3,3,3,3,2,1],[1,1,2,2,3,3,3,3,3,4,4,4,3,4,4,4,3,3,3,3,2,2,1,1,1],[0,1,1,1,2,2,2,3,3,3,3,3,3,3,3,3,3,2,2,2,1,1,1,0,0],[0,0,0,1,1,1,1,2,2,2,3,3,2,3,3,2,2,1,1,1,1,0,0,0,0]];
const common_me3_20=[[2,3,3,4,4,5,5,5,6,6,6,6,5,6,6,6,6,5,5,5,4,4,3,3,2],[1,2,2,3,3,3,3,4,4,4,5,5,4,5,5,4,4,4,3,3,3,3,2,2,1],[1,1,1,2,2,3,3,3,3,4,4,4,3,4,4,3,3,3,3,2,2,1,1,1,1],[0,0,1,1,1,2,2,2,3,3,3,3,2,3,3,3,2,2,2,1,1,1,0,0,0],[0,0,0,0,1,1,1,1,2,2,2,3,2,3,2,2,1,1,1,1,0,0,0,0,0]];
const common_K9_4=[[3,3,4,4,5,6,7,7,8,8,8,8,3,8,8,8,7,6,6,5,4,4,3,3,3],[2,2,2,3,3,3,4,5,5,6,6,6,3,6,6,5,5,4,3,3,3,2,2,2,2],[1,1,2,2,2,2,3,3,4,5,5,6,3,6,5,4,4,3,3,2,2,2,1,1,1],[1,1,1,1,1,2,2,2,3,3,4,5,3,5,4,3,3,2,2,1,1,1,1,1,1],[0,0,0,1,1,1,1,1,2,2,3,3,2,3,3,2,2,1,1,1,1,0,0,0,0]];
const common_K9_20=[[3,3,4,5,5,6,7,8,8,9,9,8,3,8,9,9,8,8,7,6,5,4,3,3,3],[2,2,2,3,3,4,5,5,7,7,8,8,3,8,8,7,7,5,5,4,3,3,2,2,2],[1,1,2,2,2,2,3,4,5,6,7,7,3,7,7,6,5,4,3,2,2,2,1,1,1],[0,1,1,1,1,2,2,2,3,4,5,6,2,6,5,4,3,2,2,1,1,1,1,0,0],[0,0,0,0,1,1,1,1,1,2,3,4,2,4,3,2,1,1,1,1,0,0,0,0,0]];
const common_K27_4=[[4,5,6,6,7,8,8,9,9,9,9,8,3,8,9,9,9,9,8,8,7,6,6,5,4],[3,3,3,4,4,5,6,7,8,8,8,8,3,8,8,8,8,7,6,5,4,4,3,3,3],[1,1,2,2,2,3,3,5,6,7,8,7,3,7,8,7,6,5,3,3,2,2,2,1,1],[0,0,1,1,1,1,2,2,3,5,6,6,2,6,6,5,3,2,2,1,1,1,1,0,0],[0,0,0,0,0,1,1,1,1,2,3,4,1,4,3,2,1,1,1,1,0,0,0,0,0]];
const common_K27_20=[[4,4,5,6,7,7,8,9,9,9,9,8,3,8,9,9,9,9,8,7,7,6,5,4,4],[2,3,3,3,4,5,6,7,8,8,8,8,3,8,8,8,8,7,6,5,4,3,3,3,2],[1,1,2,2,2,3,3,4,6,7,8,7,2,7,8,7,6,4,3,3,2,2,2,1,1],[0,0,1,1,1,1,2,2,3,5,6,6,1,6,6,5,3,2,2,1,1,1,1,0,0],[0,0,0,0,0,1,1,1,1,2,3,4,1,4,3,2,1,1,1,1,0,0,0,0,0]];
// 20% O2-only block (single row)
const last_HIF1A_4=[[0,0,0,0,0,0,0,0,0,0,1,3,6,4,1,0,0,0,0,0,0,0,0,0,0]];
const last_HIF1A_20=[[0,0,0,0,0,0,0,0,0,0,1,3,7,4,1,0,0,0,0,0,0,0,0,0,0]];
const last_ARNT_4=[[1,1,1,1,1,1,1,1,1,1,2,4,6,5,2,1,1,1,1,1,1,1,1,1,1]];
const last_ARNT_20=[[1,1,1,1,1,1,1,1,1,1,2,4,6,5,2,1,1,1,1,1,1,1,1,1,1]];
const last_me1=[[1,1,1,1,1,1,1,1,2,2,3,3,1,3,3,2,2,1,1,1,1,1,1,1,1]];
const last_me3=[[1,1,1,1,1,1,1,1,1,1,1,2,2,2,1,1,1,1,1,1,1,1,1,1,1]];
const last_K9=[[0,0,0,0,0,0,0,0,0,0,1,2,1,2,1,0,0,0,0,0,0,0,0,0,0]];
const last_K27=[[0,0,0,0,0,0,0,0,0,0,1,1,1,1,1,0,0,0,0,0,0,0,0,0,0]];
const colorHot=['#060000','#180000','#2e0300','#4a0c00','#6a2000','#a03a00','#e07000','#ffa010','#ffc838','#fff090'];
const colorOcean=['#006e00','#005f10','#0b5628','#0a4a3a','#002a4a','#000a5e','#003a90','#0060b0','#2090c0','#90d0e0'];
const colorOceanH3=['#007000','#006618','#005a24','#004a38','#003a44','#000c58','#003a90','#0060b0','#2090c0','#90d0e0'];
const colorSeismic=['#000050','#000080','#0000c0','#0000ff','#5050ff','#b8b8ff','#ffffff','#ffd0d0','#ff9090','#ff1010'];
const colorBlues=['#f7fbff','#eaf2fb','#dfebf7','#d0e2f2','#b8d5eb','#9cc4e3','#7bb0d9','#5097cc','#2c7bbb','#0f5fa8'];
const colorGreens=['#f7fcf5','#edf8e9','#d5efcf','#b7e2b1','#9ad696','#80cc80','#5cb86a','#3aa055','#1c8540','#005a24'];
const colorPale=['#fdf5fa','#014636'];
const barHot=['#000000','#5a0a00','#c04000','#ff9900','#ffee80','#ffffe8'];
const barOcean=['#006a00','#00225a','#003a88','#0078a8','#60b8cc','#ffffff'];
const barSeismic=['#000080','#0000ff','#ffffff','#ff0000','#800000'];
const barBlues=['#f7fbff','#c6dbef','#6baed6','#2171b5','#08306b'];
const barGreens=['#f7fcf5','#c7e9c0','#74c476','#238b45','#00441b'];
const barPale=['#fff7fb','#d0c8e4','#7fb0d4','#1c8e9a','#014636'];

// ---------- Panel D: genome tracks, 148 bins, value = % of the track's positive scale ----------
const trk_HIF1A_20=[0,4,4,0,3,6,6,3,5,5, 6,10,18,12,5,3,0,0,3,0, 3,4,5,0,3,0,0,3,5,3, 5,8,10,18,38,12,5,3,0,6, 8,12,26,0,0,3,3,0,3,4, 4,3,0,6,6,3,6,9,6,3, 6,8,3,0,4,0,3,0,4,7, 0,6,3,0,4,5,0,8,3,0, 3,10,13,6,3,0,3,5,0,3, 0,0,3,5,0,4,6,5,8,35, 10,35,8,6,22,24,6,3,0,4, 0,3,6,10,9,14,8,3,0,4, 6,3,5,8,4,5,3,0,5,3, 4,3,0,3,4,5,4,3,0,3, 3,0,3,6,4,8,6,12];
const trk_HIF1A_4=[0,2,3,0,3,3,8,3,2,3, 2,2,3,0,3,4,5,8,22,26, 8,41,12,35,8,0,3,0,2,3, 3,5,10,18,95,26,8,3,0,3, 12,5,4,8,2,0,3,2,3,2, 3,3,5,8,4,3,2,2,3,3, 5,5,4,6,3,0,2,3,3,5, 4,6,8,5,4,3,0,0,2,3, 3,4,3,5,3,4,5,6,5,4, 5,6,8,6,6,10,14,12,10,24, 14,37,18,14,85,22,16,12,3,3, 2,3,4,5,4,6,3,2,4,3, 2,4,3,8,3,3,5,6,12,5, 3,2,4,3,3,5,4,2,0,3, 2,3,3,2,3,3,4,3];
const trk_dHIF1A=[0,-4,3,3,0,3,5,-3,4,-3, -5,-6,3,5,5,6,8,10,18,14, 4,32,10,29,4,0,-3,0,3,3, 3,5,8,14,75,22,10,-3,-4,3, 4,-5,-13,3,3,0,3,2,3,0, 3,3,0,3,4,-6,3,3,3,3, 4,4,4,5,3,3,0,-3,3,4, 3,4,5,3,3,3,-6,0,3,3, 3,4,5,4,4,5,4,3,4,5, 4,5,4,5,5,8,10,8,9,-10, 12,20,8,10,52,14,12,3,-3,-3, 3,4,3,-3,-4,4,3,4,3,3, 4,-5,4,3,-3,3,8,5,4,3, 4,3,4,3,3,4,3,4,3,0, 3,4,3,3,4,3,-4,3];
const trk_ARNT_20=[3,3,4,4,5,5,8,8,4,5, 4,3,5,4,3,4,4,8,8,6, 8,10,8,6,5,6,5,4,5,5, 5,6,8,12,29,12,10,8,9,10, 12,10,3,6,6,8,5,4,4,4, 5,3,3,5,6,5,3,4,4,5, 5,5,6,6,8,6,5,3,3,4, 6,4,8,4,3,3,3,3,3,3, 8,10,3,3,3,12,3,4,3,3, 3,3,3,3,3,3,8,10,16,50, 20,28,14,8,32,10,8,6,3,6, 8,6,8,5,6,10,8,5,16,6, 4,4,5,3,3,4,8,14,8,5, 6,8,8,5,8,5,3,3,3,4, 3,6,8,6,5,4,6,8];
const trk_ARNT_4=[10,8,8,6,8,10,8,6,8,8, 8,10,8,6,8,6,12,18,20,28, 14,37,16,32,12,8,6,8,6,8, 8,10,14,24,90,30,18,12,8,12, 8,6,8,10,8,12,10,6,8,10, 8,6,10,8,6,8,6,5,10,8, 10,8,12,10,8,14,12,10,14,18, 12,10,14,12,16,14,10,12,8,6, 8,10,8,6,10,8,8,6,8,10, 8,8,6,8,10,10,14,18,24,55, 24,30,24,28,55,24,16,14,12,16, 12,8,10,8,8,10,8,8,12,8, 6,8,10,8,10,12,10,8,10,8, 6,8,10,8,6,8,8,6,5,8, 6,8,8,6,8,8,10,12];
const trk_dARNT=[8,6,5,6,5,8,5,4,6,3, 5,3,3,0,3,4,5,6,14,16, 12,14,10,15,6,4,3,3,3,3, 3,4,6,10,68,22,12,8,3,3, 5,3,-3,6,6,4,6,5,6,5, 6,5,4,8,14,3,4,5,3,6, 5,6,8,5,8,12,10,6,12,10, -3,8,10,6,8,6,-3,8,4,5, 5,4,5,6,5,4,6,4,5,3, 3,3,3,3,4,3,4,5,6,-20, 8,10,10,12,14,12,8,8,8,10, 8,6,6,4,3,5,3,3,4,4, 3,5,-3,4,3,5,3,-3,4,3, 5,4,-4,3,5,3,4,3,4,3, 5,3,5,4,3,5,6,4];
const trk_me1_20=[0,3,3,3,2,3,5,4,4,3, 3,4,5,8,12,20,30,33,42,36, 30,30,26,20,14,10,6,4,4,5, 10,16,24,28,42,30,22,12,8,7, 6,5,5,5,4,4,8,12,14,12, 10,6,4,3,3,4,3,2,3,3, 3,4,8,6,5,6,10,14,12,8, 12,14,12,8,6,5,6,8,6,4, 4,6,3,3,4,4,3,3,3,4, 3,3,4,3,6,10,22,35,45,48, 55,62,82,75,60,48,36,24,18,14, 12,10,10,8,8,8,6,5,4,6, 4,4,5,5,6,10,12,12,14,12, 10,8,8,6,6,5,4,3,3,3, 4,2,3,3,4,3,8,6];
const trk_me1_4=[3,3,0,2,5,3,3,2,3,8, 3,0,0,3,10,18,22,26,48,30, 24,18,20,16,10,10,8,6,5,5, 8,20,28,50,60,38,45,28,8,12, 10,6,6,4,4,3,4,6,5,4, 4,6,4,5,3,4,4,3,5,5, 6,8,8,12,10,10,8,6,5,4, 5,4,3,4,5,5,3,4,2,3, 3,4,5,3,2,3,3,2,3,3, 4,3,3,6,8,12,22,38,45,30, 22,38,92,78,52,30,16,10,14,12, 8,8,8,5,8,6,10,6,5,4, 6,5,5,8,8,10,12,10,8,6, 6,5,4,4,3,3,3,0,2,3, 2,3,3,2,3,4,5,6];
const trk_dme1=[3,8,5,3,10,6,-6,8,14,-4, 16,-5,-3,-5,16,8,28,12,52,20, 18,10,-8,28,12,-5,18,-4,3,5, 22,30,34,44,58,32,36,18,24,14, 12,8,-5,14,6,10,-4,8,6,8, 6,10,8,-4,5,6,8,-4,10,-3, 8,-5,10,12,8,6,8,10,6,-4, -5,8,6,-4,5,6,-3,5,8,4, -3,6,8,5,-4,6,4,8,5,10, 6,-4,12,8,10,5,18,34,14,6, -22,28,55,48,18,-14,-28,-14,-24,6, 8,10,-5,6,5,12,22,10,12,18, 4,5,6,10,8,6,-5,8,10,6, 16,14,-6,10,8,10,6,-4,6,5, 5,10,-3,4,3,8,-8,6];
const trk_K27_20=[3,3,0,2,3,3,3,2,3,3, 3,2,3,3,4,4,5,10,14,18, 38,40,30,15,6,5,3,3,3,5, 6,10,18,40,70,68,22,10,6,8, 5,3,3,4,3,3,4,3,3,2, 4,3,3,3,4,3,2,3,3,3, 3,4,3,4,2,3,3,4,3,3, 4,3,3,4,2,4,3,3,4,3, 3,3,4,3,3,4,3,3,3,3, 3,4,3,4,5,10,16,30,45,60, 68,65,68,62,68,68,55,40,22,12, 8,6,5,4,4,4,3,3,4,4, 3,3,4,5,3,3,4,3,4,3, 3,4,3,4,3,3,4,3,3,4, 3,3,4,3,3,3,4,3];
const trk_K27_4=[2,2,2,0,2,0,2,2,0,2, 0,0,3,2,2,4,8,12,22,28, 38,62,42,15,6,5,4,3,3,3, 6,14,28,60,78,90,40,14,8,6, 4,3,3,3,3,2,3,3,2,3, 0,2,2,3,2,0,0,2,3,2, 0,3,2,0,0,3,3,3,3,3, 3,3,3,3,3,3,3,3,3,3, 3,3,3,3,4,3,3,3,3,3, 4,4,5,6,8,12,25,42,62,80, 72,68,60,82,90,72,58,40,18,8, 5,4,3,3,3,2,2,3,3,2, 2,0,3,3,2,0,2,3,3,2, 2,3,3,2,0,2,0,0,0,2, 2,0,0,0,0,3,3,2];
const trk_dK27=[3,0,-3,3,2,3,3,3,0,0, 3,3,4,3,4,5,6,12,14,20, 22,50,30,10,4,3,3,3,3,4, 6,14,22,30,-18,63,30,10,4,-3, 3,-3,3,3,2,3,3,0,3,3, 0,3,4,3,2,3,0,-3,3,2, 2,3,0,0,3,3,-3,3,0,3, 3,3,3,3,-4,3,3,2,0,3, 3,3,4,3,3,-3,3,4,3,3, 3,-3,5,5,5,6,-10,14,-18,30, 38,28,32,25,40,-8,36,22,14,6, 4,3,2,-3,3,-3,3,2,3,3, 2,-3,3,3,2,3,-3,3,2,3, 3,3,0,3,0,3,2,3,2,0, 3,2,-4,3,0,3,-3,3];
const trk_me3_20=[0,0,0,0,0,0,0,0,0,0, 0,0,0,0,0,0,0,0,0,3, 18,50,30,12,8,4,0,0,0,0, 0,3,0,4,10,10,4,0,3,0, 3,0,0,0,3,0,3,0,0,0, 0,0,0,0,0,0,0,0,0,0, 0,0,0,0,0,0,0,0,0,0, 3,0,0,0,0,0,0,0,0,0, 0,0,0,0,0,0,0,0,0,0, 0,0,0,0,0,0,0,0,3,3, 3,3,3,4,4,25,40,32,25,18, 10,8,6,3,3,0,0,0,0,0, 0,0,0,0,0,0,0,0,0,0, 0,0,0,0,0,0,0,0,0,0, 0,0,0,0,3,3,0,0];
const trk_me3_4=[0,0,0,0,0,0,0,0,4,0, 0,0,0,0,0,0,0,0,3,14, 50,94,70,40,22,10,6,0,0,0, 0,0,0,6,10,10,6,0,0,0, 0,0,0,0,3,0,0,3,0,0, 0,0,0,0,0,0,0,0,0,0, 0,0,0,0,0,0,0,0,0,0, 0,0,0,0,0,0,0,0,0,0, 0,0,0,0,0,0,0,0,0,0, 0,0,0,0,0,0,0,0,0,4, 5,4,4,4,8,22,45,53,42,30, 14,8,4,3,0,3,3,0,0,0, 0,0,0,0,0,0,0,0,0,0, 0,0,0,0,0,0,0,0,0,0, 0,0,0,0,0,0,0,0];
const trk_dme3=[3,0,0,0,0,0,3,0,4,0, 0,0,0,0,0,0,0,0,3,14, 35,80,45,24,12,8,6,0,0,0, 0,3,3,0,4,12,4,0,3,0, 3,3,0,3,0,3,3,0,3,0, 3,3,3,4,3,3,0,3,3,0, 3,0,3,0,0,0,3,0,0,3, 3,0,0,3,3,0,0,0,0,0, 0,0,0,3,0,0,0,0,0,0, 0,0,0,0,0,0,3,3,6,8, 8,8,10,8,8,-4,45,42,-6,22, 6,3,-4,3,3,3,4,3,0,0, 0,3,0,0,0,0,3,0,0,0, 0,0,0,3,0,0,0,0,0,0, 3,0,0,0,3,0,0,0];
const trk_physioxia=[12,8,14,10,18,8,14,20,14,10, 4,14,8,12,10,18,26,10,14,18, 40,100,55,75,42,58,24,36,18,24, 16,22,12,24,16,10,14,22,12,18, 10,14,24,12,14,20,10,26,18,12, 14,18,10,22,14,10,16,20,24,14, 12,26,16,20,14,10,22,14,28,16, 50,16,32,24,14,10,20,12,10,14, 12,18,14,10,16,22,12,16,24,14, 10,16,12,18,10,14,12,16,14,24, 16,22,18,30,20,40,55,90,72,60, 80,55,60,48,70,40,34,30,42,28, 48,32,40,26,38,30,24,34,28,22, 36,26,30,22,28,34,20,26,24,30, 18,26,30,20,32,24,18,16];
const bandSpans=[[17.3,20.1,'y'],[20.1,22.2,'v'],[30.8,33.6,'y'],[33.6,35.6,'v'],[96.3,104.5,'y'],[104.5,107.5,'v']];
const chrom20=[[0,17.2,2],[17.2,20.3,8],[20.3,21.2,9],[21.2,21.6,10],[21.6,22.1,9],[22.1,30.6,2],[30.6,31,8],[31,36.3,9],[36.3,38,2],[38,40.2,5],[40.2,81,2],[81,82.2,3],[82.2,96.3,2],[96.3,104.5,9],[104.5,107.5,10],[107.5,108.5,8],[108.5,131.4,5],[131.4,138.7,2],[138.7,148,5]];
const chrom4=[[0,17.5,2],[17.5,20.1,9],[20.1,22.3,10],[22.3,22.8,9],[22.8,30.6,5],[30.6,32.2,7],[32.2,35.6,9],[35.6,36.6,7],[36.6,38.5,5],[38.5,42.5,6],[42.5,45.7,5],[45.7,49.5,6],[49.5,81,5],[81,81.3,4],[81.3,82.5,3],[82.5,96.5,5],[96.5,104.6,9],[104.6,108.1,10],[108.1,108.5,9],[108.5,109.5,7],[109.5,110.6,5],[110.6,112.5,6],[112.5,115.3,5],[115.3,120.1,6],[120.1,148,5]];
const chrom20Labels=[[2,8.5],[8,18.6],[2,26.3],[8,36.2],[2,60.5],[3,81.5],[2,89.2],[9,100.3],[8,107.9],[5,119.8],[2,135],[5,143.4]];
const chrom4Labels=[[2,8.5],[9,18.7],[5,26.7],[7,35.9],[5,44],[5,65.1],[4,80.8],[5,89.4],[9,100.8],[7,108.8],[6,117.8],[5,134]];
const stateNames=['1 Polycomb-repressed','2 Low signal','3 Insulator','4 Insulator, genic','5 Transcription, weak','6 Transcription','7 Transcriptional transition','8 Enhancer, weak','9 Enhancer, strong','10 Active promoter'];
const stateLegendColors=['#3f48cc','#00a2e8','#00e0b0','#803080','#80b010','#1a8a3a','#ed1c24','#efe4b0','#fff200','#e0a8f0'];
const stateTextColors=['#e8e8f8','#222','#222','#ece0ec','#222','#222','#222','#222','#222','#222'];
const stateTrackColors=['#3f48cc','#0099cc','#2ee89e','#7f3f98','#669933','#0a661e','#e61a3c','#cccc66','#ffff00','#cc99ee'];
const geneThick=[[0,0,12.2],[0,20.5,148],[1,0,12.2],[2,0,12.2]];
const geneThin=[[1,20.5,142],[2,20.5,148],[3,106,148],[4,106.5,148],[5,141.3,148]];
const geneExons=[[1,141.3,142],[2,141,142.3],[3,141,142.3],[4,141,142.3],[5,141.3,142]];
const nos1Chevrons=[23.8,30.9,38,45,52.2,59.2,66.3,73.4,80.5,87.5,94.6,101.7,108.8,115.8,122.9,130,137,144.2];
const shortChevrons=[109.4,116.5,123.6,130.7,137.7,146];
const ksr2Chevrons=[3,10];

// ---------- Panel E: reporter assays ----------
const enhCats=['pGL3-B','pGL3-P','pGL3-P+E1','pGL3-P+E2','pGL3-P+E3d','pGL3-P+E3p'];
const enh20=[1,5,7,11,11,19];
const enh4=[1,25,37,38,49,160];
const enhDots=[[0,-1,-5,1],[0,-1,5,1],[1,-1,-4.5,5],[1,-1,0,5.5],[1,-1,4.5,5],[2,-1,-5,6],[2,-1,5,9],[2,-1,0,10],[3,-1,-5,7.5],[3,-1,5,12],[3,-1,0,13.5],[4,-1,-5,10],[4,-1,5,11],[4,-1,0,13],[5,-1,-5,28],[5,-1,-5,18],[5,-1,5,21],
[0,1,-5,1],[0,1,5,1],[1,1,-5,25],[1,1,5,25],[1,1,0,27],[2,1,-5,51],[2,1,5,48],[2,1,0,13.5],[3,1,-5,52],[3,1,5,45],[3,1,0,18],[4,1,-5,67],[4,1,5,63.5],[4,1,0,17],[5,1,-5,212.5],[5,1,5,211.5],[5,1,0,58]];
const enhErr=[[1,-1,4,6],[1,1,23.5,26.5],[2,-1,5,10],[2,1,16,58],[3,-1,8,14],[3,1,19,57],[4,-1,9.5,12.5],[4,1,20,77],[5,-1,14,26],[5,1,72,249]];
const enhBrackets=[[1,43.2,36.5,58.4],[2,73.3,64.5,88.2],[3,71.3,62.5,86.1],[4,91.6,83.1,106.4],[5,263.9,255.4,278.7]];
const enhP=['0.0011','0.0372','0.0214','0.0820','0.0475'];
const proCats=['pGL3-B','pGL3-E','pGL3-E+P1','pGL3-E+P2','pGL3-E+P3'];
const pro20=[1,.8,.8,4.15,2.45];
const pro4=[1,1.25,3.9,5.95,9.05];
const proDots=[[0,-1,-5,1],[0,-1,5,1],[1,-1,-5,.75],[1,-1,5,.78],[1,-1,0,.9],[2,-1,-5,.66],[2,-1,5,.8],[2,-1,0,1.05],[3,-1,0,6.13],[3,-1,0,3.5],[3,-1,0,2.77],[4,-1,0,3],[4,-1,-5,2.2],[4,-1,5,2.25],
[0,1,-5,1],[0,1,5,1],[1,1,-5,1.24],[1,1,5,1.24],[1,1,0,1.55],[2,1,0,4.74],[2,1,0,3.9],[2,1,0,3.1],[3,1,0,8.43],[3,1,0,6.85],[3,1,0,2.63],[4,1,0,11.43],[4,1,-6,7.83],[4,1,5,8.03]];
const proErr=[[1,-1,.7,.9],[1,1,1.05,1.45],[2,-1,.65,.95],[2,1,3,4.8],[3,-1,2.36,5.93],[3,1,3,9],[4,-1,1.95,2.95],[4,1,7.1,11.1]];
const proBrackets=[[1,2.46,2.04,3.21],[2,5.66,5.23,6.39],[3,9.75,9.33,10.5],[4,12.4,11.98,13.15]];
const proP=['0.0227','0.0245','0.6526','0.0003'];

// ---------- Builders ----------
const FONT='"Liberation Sans",Arial,sans-serif';
const grids=[],xAxes=[],yAxes=[],series=[],gfx=[],vmaps=[];
function addGrid(l,t,w,h,x,y,extra){const i=grids.length;
  grids.push(Object.assign({left:l,top:t,width:w,height:h,containLabel:false,outerBoundsMode:'none'},extra||{}));
  xAxes.push(Object.assign({gridIndex:i},x));yAxes.push(Object.assign({gridIndex:i},y));return i;}
function T(str,x,y,size,color,o){o=o||{};color=color||'#111';
  const rich={};let out='',n=0,m;const fw=o.weight||'normal';
  const re=/~([^~]+)~|\^([^^]+)\^|\*([^*]+)\*|\[\[(#[0-9a-fA-F]+):([^\]]*)\]\]|([^~^*]+?)(?=~|\^|\*|\[\[|$)/g;
  const base=()=>({fontSize:size,fontFamily:FONT,fill:color,fontWeight:fw});
  while((m=re.exec(str))){ if(m[0]==='')break; const k='t'+(n++);let s=base(),t=m[6];
    if(m[1]){t=m[1];s.fontSize=size*.66;s.height=size*.36;s.verticalAlign='bottom';}
    else if(m[2]){t=m[2];s.fontSize=size*.66;s.height=size*.3;s.verticalAlign='top';}
    else if(m[3]){t=m[3];s.fontStyle='italic';}
    else if(m[4]){t=m[5];s.fill=m[4];}
    rich[k]=s;out+='{'+k+'|'+t+'}';}
  gfx.push({type:'text',x:x,y:y,rotation:o.rot||0,silent:true,z:o.z||20,
    style:{text:out,rich:rich,align:o.align||'left',verticalAlign:'middle',fontSize:size,fontFamily:FONT,fill:color}});}
function rectG(x,y,w,h,fill,stroke,lw,z){gfx.push({type:'rect',silent:true,z:z||5,shape:{x:x,y:y,width:w,height:h},style:{fill:fill||'none',stroke:stroke||null,lineWidth:lw||0}});}
function lineG(x1,y1,x2,y2,c,lw,z){gfx.push({type:'line',silent:true,z:z||5,shape:{x1:x1,y1:y1,x2:x2,y2:y2},style:{stroke:c,lineWidth:lw||1}});}
function dotG(x,y,r,fill,stroke,lw){gfx.push({type:'circle',silent:true,z:20,shape:{cx:x,cy:y,r:r},style:{fill:fill,stroke:stroke,lineWidth:lw||1}});}

// Section letters
[['A',-1,18],['B',950,18],['C',-1,443],['D',2,1142],['E',1019,1142]].forEach(a=>T(a[0],a[1],a[2],46,'#000',{weight:'bold'}));
[[35,27],[986,27],[37,450],[1058,1147]].forEach(a=>T('N1E-115',a[0],a[1],24,'#111'));

// Panel A
function scatterPanel(l,t,w,h,xOpt,groups){
  const axisBase={axisLine:{onZero:false,lineStyle:{color:'#222',width:1.3}},axisTick:{length:6,lineStyle:{color:'#222',width:1.3}},splitLine:{show:false},axisLabel:{fontFamily:FONT,fontSize:17,color:'#111',margin:15}};
  const g=addGrid(l,t,w,h,Object.assign({type:'value',min:-3,max:4},axisBase,xOpt),
    Object.assign({type:'value',min:-6,max:8,interval:2},axisBase,{axisLabel:{fontFamily:FONT,fontSize:17,color:'#111',margin:13}}),
    {show:true,borderColor:'#333',borderWidth:1.3,backgroundColor:'#fff'});
  groups.forEach((s,i)=>series.push({type:'scatter',xAxisIndex:g,yAxisIndex:g,data:s[0],symbolSize:s[2],silent:true,z:3+i,
    itemStyle:{color:s[1],borderColor:i===0?'#929292':'#999',borderWidth:i===0?1:.5,opacity:1},
    markLine:i===0?{silent:true,symbol:'none',label:{show:false},animation:false,lineStyle:{type:[9,5],color:'#444',width:1.2},data:[{xAxis:0},{yAxis:0}]}:undefined}));
}
scatterPanel(66.6,49.3,310,311,{interval:1},[[a1Grey,'#fff',8],[a1Red,'#ff0000',8.5],[a1Magenta,'#ff00ff',8.5],[a1Purple,'#800080',8.5],[a1Blue,'#0000ff',8.5]]);
scatterPanel(623.3,51,310.7,311,{axisTick:{length:6,lineStyle:{color:'#222',width:1.3},customValues:[-2,0,2,4]},axisLabel:{fontFamily:FONT,fontSize:17,color:'#111',margin:15,customValues:[-2,0,2,4]}},[[a2Grey,'#fff',8],[a2Red,'#ff0000',8.5],[a2Magenta,'#ff00ff',8.5],[a2Purple,'#800080',8.5]]);
T('log~2~ DGE (4% O~2~ / 20% O~2~)',222,413,20,'#111',{align:'center'});
T('log~2~ DGE (4% O~2~ / 20% O~2~)',778,414,20,'#111',{align:'center'});
T('log~2~ HIF1A DB (4% O~2~ / 20% O~2~)',12,205,20,'#111',{align:'center',rot:Math.PI/2});
T('log~2~ ARNT DB (4% O~2~ / 20% O~2~)',566,207,20,'#111',{align:'center',rot:Math.PI/2});
T('DB (*Q*~min~) peaks',386.6,58,17.4);T('@ uniq DE (*P*<0.05)',386.6,82,17.4);T('genes:',386.6,102,17.4);
[['All','#fff','#777',128],['Hallmark_Hypoxia','#ff0000','#999',148],['KEGGmmu04066','#ff00ff','#999',168],['Hallmark & KEGG','#800080','#999',188],['*Nos1*','#0000ff','#999',208]].forEach(r=>{dotG(392,r[3],5.5,r[1],r[2],1);T(r[0],406,r[3],17.4);});

// Panel B
const tX=[976.5,1062,1220,1284.6,1389,1490.4,1609.5],tY=[51,95.3,140,184.3,229,273.3,318,362.3];
tX.forEach(x=>lineG(x,tY[0],x,tY[7],'#333',1.3));tY.forEach(y=>lineG(tX[0],y,tX[6],y,'#333',1.3));
tableHead.forEach((h,i)=>T(h,(tX[i]+tX[i+1])/2,(tY[0]+tY[1])/2+.8,16.5,'#111',{align:'center',weight:'bold'}));
const motifColor={A:'#10a010',C:'#1818d8',G:'#f0a000',T:'#e01010'},motifW={A:14.4,C:14.4,G:15.6,T:12.2};
function drawMotif(m,x0,w,yBase,H){m.forEach((stack,i)=>{let y=yBase;stack.slice().reverse().forEach(p=>{const h=p[1]*H;
  gfx.push({type:'text',silent:true,z:20,x:x0+(i+.5)*w,y:y-h/2,scaleX:w/motifW[p[0]],scaleY:h/14.3,style:{text:p[0],fontSize:20,fontWeight:'bold',fontFamily:FONT,fill:motifColor[p[0]],align:'center',verticalAlign:'middle'}});y-=h;});});}
const rowMotifs=[motifEPAS,motifHIF,motifARNT,motifEPAS,motifHIF,motifARNT];
tableRows.forEach((r,i)=>{const cy=(tY[i+1]+tY[i+2])/2+1.2;
  T(r[0],(tX[0]+tX[1])/2,cy,17,'#111',{align:'center'});T(r[1],(tX[2]+tX[3])/2,cy,17,'#111',{align:'center'});
  T(r[2],(tX[3]+tX[4])/2,cy,17,'#111',{align:'center'});T(r[3],(tX[4]+tX[5])/2,cy,17,'#111',{align:'center'});T(r[4],(tX[5]+tX[6])/2,cy,17,'#111',{align:'center'});
  const m=rowMotifs[i];if(m.length===10)drawMotif(m,1091,11.66,cy+9,19);else drawMotif(m,1106.6,10.75,cy+9,19);});

// Panel C
const panelX=[65,171.5,278,384,490,596.5,703,809,915.5,1022,1128,1234.5,1340,1446.5],panelW=97;
const groupTitles=[['HIF1A',64,269,167],['ARNT',277,481,379],['H3K4me1',489,694,593],['H3K4me3',701.5,906,803],['H3K9ac',913.6,1118.7,1017],['H3K27ac',1126.4,1331,1228.7],['H3K27me3',1338.7,1543.8,1441.5]];
groupTitles.forEach(g=>{T(g[0],g[3],462.7,21,'#111',{align:'center'});rectG(g[1],476,g[2]-g[1],6,'#000');});
const panelProfiles=[[prof_HIF1A_4_b,prof_HIF1A_4_g,prof_HIF1A_4_r],[prof_HIF1A_20_b,prof_HIF1A_20_g,prof_HIF1A_20_r],[prof_ARNT_4_b,prof_ARNT_4_g,prof_ARNT_4_r],[prof_ARNT_20_b,prof_ARNT_20_g,prof_ARNT_20_r],[prof_me1_4_b,prof_me1_4_g,prof_me1_4_r],[prof_me1_20_b,prof_me1_20_g,prof_me1_20_r],[prof_me3_4_b,prof_me3_4_g,prof_me3_4_r],[prof_me3_20_b,prof_me3_20_g,prof_me3_20_r],[prof_K9_4_b,prof_K9_4_g,prof_K9_4_r],[prof_K9_20_b,prof_K9_20_g,prof_K9_20_r],[prof_K27_4_b,prof_K27_4_g,prof_K27_4_r],[prof_K27_20_b,prof_K27_20_g,prof_K27_20_r],[prof_me3K27_b,prof_me3K27_g,prof_me3K27_r],[prof_me3K27_b,prof_me3K27_g,prof_me3K27_r]];
const panelMain=[heat_HIF1A_4,heat_HIF1A_20,heat_ARNT_4,heat_ARNT_20,heat_me1_4,heat_me1_20,heat_me3_4,heat_me3_20,heat_K9_4,heat_K9_20,heat_K27_4,heat_K27_20,heat_K27me3,heat_K27me3];
const panelCommon=[common_HIF1A_4,common_HIF1A_20,common_ARNT_4,common_ARNT_20,common_me1_4,common_me1_20,common_me3_4,common_me3_20,common_K9_4,common_K9_20,common_K27_4,common_K27_20,heat_K27me3,heat_K27me3];
const panelLast=[last_HIF1A_4,last_HIF1A_20,last_ARNT_4,last_ARNT_20,last_me1,last_me1,last_me3,last_me3,last_K9,last_K9,last_K27,last_K27,heat_K27me3,heat_K27me3];
const panelScale=[colorHot,colorHot,colorOcean,colorOcean,colorOceanH3,colorOceanH3,colorSeismic,colorSeismic,colorBlues,colorBlues,colorGreens,colorGreens,colorPale,colorPale];
const panelBar=[barHot,barHot,barOcean,barOcean,barOcean,barOcean,barSeismic,barSeismic,barBlues,barBlues,barGreens,barGreens,barPale,barPale];
const blocks=[[603.3,405.4],[1011,47.7],[1061,3.2]];
const profColors=['#1a2ee0','#1f8a1f','#f02020'];
const heatIdx={};
panelX.forEach((px,i)=>{
  T(i%2?'20% O~2~':'4% O~2~',px+panelW/2,500,20,'#111',{align:'center'});
  const first=i===0;
  const g=addGrid(px,514,panelW,79.3,
    {type:'value',min:-2.5,max:2.5,interval:2.5,axisLine:{onZero:false,lineStyle:{color:'#888'}},axisTick:{length:3,lineStyle:{color:'#777'}},axisLabel:{show:false},splitLine:{show:false}},
    {type:'value',min:-.04,max:1.57,axisLine:{show:false,onZero:false},axisTick:{show:true,length:3,lineStyle:{color:'#777'},customValues:[0,.5,1,1.5]},axisLabel:first?{show:true,fontFamily:FONT,fontSize:12,color:'#111',margin:3,customValues:[0,.5,1,1.5],formatter:v=>v.toFixed(1)}:{show:false},splitLine:{show:false}},
    {show:true,borderColor:'#888',borderWidth:1});
  panelProfiles[i].forEach((arr,k)=>series.push({type:'line',xAxisIndex:g,yAxisIndex:g,data:profX.map((x,j)=>[x,arr[j]]),symbol:'none',silent:true,lineStyle:{color:profColors[k],width:1},z:3+k}));
  [panelMain[i],panelCommon[i],panelLast[i]].forEach((mat,b)=>{
    const rows=mat.length,cols=mat[0].length,data=[];
    mat.forEach((r,y)=>r.forEach((v,x)=>data.push([x,y,v])));
    const g2=addGrid(px,blocks[b][0],panelW,blocks[b][1],
      {type:'category',show:false,data:Array.from({length:cols},(_,k)=>k)},
      {type:'category',show:false,inverse:true,data:Array.from({length:rows},(_,k)=>k)},
      {show:true,borderColor:'#999',borderWidth:1});
    const key=panelScale[i].join();(heatIdx[key]=heatIdx[key]||{colors:panelScale[i],idx:[]}).idx.push(series.length);
    series.push({type:'heatmap',xAxisIndex:g2,yAxisIndex:g2,data:data,silent:true,emphasis:{disabled:true},progressive:0,z:3});
  });
  addGrid(px,1065,panelW,1,
    {type:'value',min:-2.5,max:2.5,interval:2.5,axisLine:{lineStyle:{color:'#888'}},axisTick:{length:3,lineStyle:{color:'#777'}},splitLine:{show:false},
     axisLabel:{fontFamily:FONT,fontSize:11,color:'#111',margin:1,hideOverlap:false,showMinLabel:true,showMaxLabel:true,alignMinLabel:'left',alignMaxLabel:'right',formatter:v=>v<0?'-2.5':v>0?'+2.5':'center'}},
    {type:'value',show:false,min:0,max:1});
  T('peak distance (kb)',px+panelW/2,1084,11,'#111',{align:'center'});
  const stops=panelBar[i].map((c,j,a)=>({offset:j/(a.length-1),color:c}));
  gfx.push({type:'rect',silent:true,z:5,shape:{x:px,y:1092,width:panelW,height:6},style:{fill:new echarts.graphic.LinearGradient(0,0,1,0,stops),stroke:'#888',lineWidth:.8}});
  [['0.0',7],['0.4',43],['0.8',79]].forEach(l=>T(l[0],px+l[1],1108,11.5,'#111',{align:'center'}));
});
Object.values(heatIdx).forEach(h=>vmaps.push({type:'continuous',show:false,min:0,max:9,dimension:2,seriesIndex:h.idx,inRange:{color:h.colors}}));
T('Tag density/M',37,558,13,'#111',{align:'center',rot:Math.PI/2});
T('4% O~2~',62,615,17,'#111',{align:'right'});T('4% O~2~ &',62,1022,17,'#111',{align:'right'});T('20% O~2~',62,1037,17,'#111',{align:'right'});T('20% O~2~',62,1062,17,'#111',{align:'right'});
[[526,'#1a2ee0','4% O~2~'],[544,'#1f8a1f','Common'],[561.7,'#f02020','20% O~2~']].forEach(l=>{lineG(1448,l[0],1474,l[0],l[1],2,20);T(l[2],1476.6,l[0],16.5);});

// Panel D
const tL=262,tW=741;
const bg=addGrid(tL,1135.7,tW,664,{type:'value',show:false,min:0,max:148},{type:'value',show:false,min:0,max:1});
function segSeries(gi,data,colorOf,z){series.push({type:'custom',xAxisIndex:gi,yAxisIndex:gi,data:data,silent:true,z:z,clip:false,encode:{x:[0,1]},
  renderItem:(p,api)=>{const a=api.coord([api.value(0),0]),b=api.coord([api.value(1),0]),cs=p.coordSys;
    return {type:'rect',shape:{x:a[0],y:cs.y,width:b[0]-a[0],height:cs.height},style:{fill:colorOf(data[p.dataIndex])}};}});}
segSeries(bg,bandSpans,d=>d[2]==='y'?'#ffffd2':'#f8eefd',0);
lineG(66,1135.7,66,1863,'#111',1.2);
T('N1E-115',46,1499,24,'#111',{align:'center',rot:Math.PI/2});
[['E1',335,1135.7],['P1',386.6,1135.7],['E2',401.4,1156],['(P2)',461,1156],['E3',729.4,1146.7],['P3',814,1146.7]].forEach(l=>T(l[0],l[1],l[2],18,'#111',{align:'center'}));
const RED='#f01818',BLUE='#1414e0';
const bins=Array.from({length:148},(_,i)=>i);
const tracks=[
 ['HIF1A_20% O~2~',trk_HIF1A_20,1179.3,RED,'[0-50]'],
 ['HIF1A_4% O~2~',trk_HIF1A_4,1223.3,BLUE,'[0-50]'],
 ['ΔHIF1A',trk_dHIF1A,1260.7,'#111','[[[#d00:-10.3]]-[[#00d:47]]]',22],
 ['ARNT_20% O~2~',trk_ARNT_20,1309,RED,'[0-43]'],
 ['ARNT_4% O~2~',trk_ARNT_4,1352.7,BLUE,'[0-43]'],
 ['ΔARNT',trk_dARNT,1389.7,'#111','[[[#d00:-13.1]]-[[#00d:40]]]',33],
 ['H3K4me1_20% O~2~',trk_me1_20,1440.7,RED,'[0-67]'],
 ['H3K4me1_4% O~2~',trk_me1_4,1484,BLUE,'[0-67]'],
 ['ΔH3K4me1',trk_dme1,1517,'#111','[[[#d00:-12.7]]-[[#00d:22]]]',58],
 ['H3K27ac_20% O~2~',trk_K27_20,1571.7,RED,'[0-123]'],
 ['H3K27ac_4% O~2~',trk_K27_4,1615.7,BLUE,'[0-123]'],
 ['ΔH3K27ac',trk_dK27,1649.7,'#111','[[[#d00:-27.2]]-[[#00d:59]]]',46],
 ['H3K4me3_20% O~2~',trk_me3_20,1702.7,RED,'[0-108]'],
 ['H3K4me3_4% O~2~',trk_me3_4,1746.3,BLUE,'[0-108]'],
 ['ΔH3K4me3',trk_dme3,1786.7,'#111','[[[#d00:-8.1]]-[[#00d:64]]]',13],
];
const trkH=38;
function trackSeries(arr,base,color,neg,h){
  const negV=neg||0,px=negV*h/100;
  const g=addGrid(tL,base-h,tW,h+px,
    {type:'category',data:bins,axisLine:{onZero:true,lineStyle:{color:'#c8c8c8',width:1.6}},axisTick:{show:false},axisLabel:{show:false}},
    {type:'value',show:false,min:-negV,max:100});
  series.push({type:'bar',xAxisIndex:g,yAxisIndex:g,data:arr,barWidth:'100%',silent:true,z:3,itemStyle:{color:neg?(p=>p.value<0?RED:BLUE):color}});
}
tracks.forEach(t=>{const c=t[3];
  trackSeries(t[1],t[2],t[5]?BLUE:c,t[5],trkH);
  T(t[0],254,t[2]-21.5,19,c,{align:'right'});
  T(t[4].replace(/^\[(?=\[\[)/,'[[#111:[]]'),254,t[2]-3.5,13.5,t[5]?'#111':c,{align:'right'});
});
// ChromHMM
function chromTrack(top,h,data,labels,yNum,yLine){
  const g=addGrid(tL,top,tW,h,{type:'value',show:false,min:0,max:148},{type:'value',show:false,min:0,max:1});
  segSeries(g,data,d=>stateTrackColors[d[2]-1],3);
  labels.forEach(l=>T(String(l[0]),tL+l[1]*tW/148,yNum,22,'#111',{align:'center'}));
  lineG(tL,yLine,tL+tW,yLine,'#d0d0d0',1.6);
}
chromTrack(1799.3,11.6,chrom20,chrom20Labels,1826,1837.7);
chromTrack(1845.7,12,chrom4,chrom4Labels,1873,1885);
lineG(tL,1791.7,tL+tW,1791.7,'#d0d0d0',1.2);
T('ChromHMM_20% O~2~',254,1810,19,RED,{align:'right'});
T('ChromHMM_4% O~2~',254,1857,19,BLUE,{align:'right'});
// physioxia
trackSeries(trk_physioxia,1929.3,'#0d5c10',0,36);
T('H3K4me3',254,1882.7,19,'#0d5c10',{align:'right'});T('physioxia',254,1904,19,'#0d5c10',{align:'right'});T('[0-17]',254,1921.7,13.5,'#0d5c10',{align:'right'});
T('*Nos1*-mG^+^',90,1881.7,24,'#111',{align:'center'});T('neurons',90,1910.7,24,'#111',{align:'center'});
// State legend
stateNames.forEach((s,i)=>{const y=1923.3+i*17.57;rectG(21,y,190,17.57,stateLegendColors[i]);T(s,i===9?24:32,y+9,15.5,stateTextColors[i]);});
T('ChromHMM states',11,2012,19.5,'#111',{align:'center',rot:Math.PI/2});
// Gene models
const gg=addGrid(tL,1930,tW,165.2,{type:'value',show:false,min:0,max:148},{type:'value',show:false,min:-.357,max:5.543,inverse:true});
function geneRects(data,h,color){series.push({type:'custom',xAxisIndex:gg,yAxisIndex:gg,data:data,silent:true,z:4,clip:false,encode:{x:[1,2],y:0},
  renderItem:(p,api)=>{const a=api.coord([api.value(1),api.value(0)]),b=api.coord([api.value(2),api.value(0)]);
    return {type:'rect',shape:{x:a[0],y:a[1]-h/2,width:b[0]-a[0],height:h},style:{fill:color}};}});}
geneRects(geneThin,2,'#3a3adc');geneRects(geneThick,8,'#0a0ab0');geneRects(geneExons,11,'#0a0ab0');
function chevrons(rowBins,color){series.push({type:'custom',xAxisIndex:gg,yAxisIndex:gg,data:rowBins,silent:true,z:5,clip:false,encode:{x:1,y:0},
  renderItem:(p,api)=>{const a=api.coord([api.value(1),api.value(0)]);
    return {type:'polyline',shape:{points:[[a[0]-1.5,a[1]-3],[a[0]+1.5,a[1]],[a[0]-1.5,a[1]+3]]},style:{stroke:color,fill:'none',lineWidth:1.2}};}});}
const chevWhite=nos1Chevrons.map(b=>[0,b]).concat(ksr2Chevrons.map(b=>[1,b]),ksr2Chevrons.map(b=>[2,b]));
const chevBlue=nos1Chevrons.slice(0,17).map(b=>[1,b]).concat(nos1Chevrons.slice(0,17).map(b=>[2,b]),nos1Chevrons.slice(-1).map(b=>[2,b]),shortChevrons.map(b=>[3,b]),shortChevrons.map(b=>[4,b]),[[5,146]]);
chevrons(chevWhite,'#fff');chevrons(chevBlue,'#2a2ad0');
series.push({type:'line',xAxisIndex:gg,yAxisIndex:gg,data:[[141.6,-.14],[141.6,5.18]],symbol:'none',silent:true,z:6,lineStyle:{color:'#ff00e0',type:[4,3],width:1.6}});
const KS='Ksr2';[[1953],[1981.7],[2010]].forEach(r=>T(KS,301.5,r[0],19,'#111',{align:'center'}));
T('Nos1',692.6,1953,19,'#111',{align:'center'});
T('Nos1[[#c05010:-205]]',680,1981.7,19,'#111',{align:'center'});
T('Nos1[[#4090f0:-203]]',680,2010,19,'#111',{align:'center'});
T('Nos1[[#20c020:-202]]',957,2010,19,'#111',{align:'center'});
T('Nos1[[#20c020:-206]]',889,2038,19,'#111',{align:'center'});
T('Nos1[[#555555:-201]]',889,2066,19,'#111',{align:'center'});
T('Nos1[[#20c020:-207]]',957,2093,19,'#111',{align:'center'});
T('Ensembl GRCm38.p6',283.5,2050,18.5);T('Mouse chr5: 117,766,000-117,873,000',283.5,2072,18.5);

// Panel E
function barPanel(top,h,cats,v20,v4,dots,errs,brackets,pvals,ymax,interval){
  const band=75.4;
  const g=addGrid(1159.8,top,band*cats.length,h,
    {type:'category',data:cats,axisLine:{lineStyle:{color:'#000',width:2}},axisTick:{show:false},
     axisLabel:{interval:0,rotate:45,fontFamily:FONT,fontSize:24,color:'#111',margin:17}},
    {type:'value',min:0,max:ymax,interval:interval,offset:-5.2,axisLine:{show:true,lineStyle:{color:'#000',width:2}},axisTick:{show:true,length:8,lineStyle:{color:'#000',width:2}},splitLine:{show:false},
     axisLabel:{fontFamily:FONT,fontSize:22.5,color:'#111',margin:3}});
  const bstyle=c=>({color:c,borderColor:'#111',borderWidth:2});
  series.push({type:'bar',xAxisIndex:g,yAxisIndex:g,data:v20,barWidth:18,barGap:'57%',silent:true,z:3,itemStyle:bstyle('#f53f3f')});
  series.push({type:'bar',xAxisIndex:g,yAxisIndex:g,data:v4,barWidth:18,barGap:'57%',silent:true,z:3,itemStyle:bstyle('#5555ee')});
  const sep=14.15;
  series.push({type:'custom',xAxisIndex:g,yAxisIndex:g,data:errs,silent:true,z:4,clip:false,encode:{x:0,y:[2,3]},
    renderItem:(p,api)=>{const lo=api.coord([api.value(0),api.value(2)]),hi=api.coord([api.value(0),api.value(3)]),x=lo[0]+api.value(1)*sep,s={stroke:'#111',lineWidth:1.6};
      return {type:'group',children:[{type:'line',shape:{x1:x,y1:lo[1],x2:x,y2:hi[1]},style:s},{type:'line',shape:{x1:x-4.5,y1:lo[1],x2:x+4.5,y2:lo[1]},style:s},{type:'line',shape:{x1:x-4.5,y1:hi[1],x2:x+4.5,y2:hi[1]},style:s}]};}});
  series.push({type:'custom',xAxisIndex:g,yAxisIndex:g,data:dots,silent:true,z:5,clip:false,encode:{x:0,y:3},
    renderItem:(p,api)=>{const c=api.coord([api.value(0),api.value(3)]),side=api.value(1);
      return {type:'circle',shape:{cx:c[0]+side*sep+api.value(2),cy:c[1],r:4.8},style:{fill:side<0?'#f9a0a0':'#c4c4f8',stroke:'#222',lineWidth:1.1}};}});
  series.push({type:'custom',xAxisIndex:g,yAxisIndex:g,data:brackets,silent:true,z:5,clip:false,encode:{x:0,y:1},
    renderItem:(p,api)=>{const t=api.coord([api.value(0),api.value(1)]),l=api.coord([api.value(0),api.value(2)]),q=api.coord([api.value(0),api.value(3)]),x0=t[0]-sep,x1=t[0]+sep;
      return {type:'group',children:[{type:'polyline',shape:{points:[[x0,l[1]],[x0,t[1]],[x1,t[1]],[x1,l[1]]]},style:{stroke:'#222',fill:'none',lineWidth:1.4}},
        {type:'text',style:{text:pvals[p.dataIndex],x:t[0],y:q[1],align:'center',verticalAlign:'middle',fontSize:17.5,fontFamily:FONT,fill:'#111'}}]};}});
}
barPanel(1180,296,enhCats,enh20,enh4,enhDots,enhErr,enhBrackets,enhP,300,50);
barPanel(1619.3,294.4,proCats,pro20,pro4,proDots,proErr,proBrackets,proP,15,3);
T('Enhancer activity',1054,1321.7,26.5,'#111',{align:'center',rot:Math.PI/2});T('(FC vs. pGL3-B)',1088.5,1321.7,26.5,'#111',{align:'center',rot:Math.PI/2});
T('Promoter activity',1065.5,1760,26.5,'#111',{align:'center',rot:Math.PI/2});T('(FC vs. pGL3-B)',1100,1760,26.5,'#111',{align:'center',rot:Math.PI/2});
[[1186,1198.7,1205,1226.7],[1185,1638,1204,1669]].forEach(a=>{dotG(a[0],a[1],4.4,'#f9a0a0','#333');T('20% O~2~',a[2],a[1],23);dotG(a[0],a[3],4.4,'#c4c4f8','#333');T('4% O~2~',a[2],a[3],23);});

const chart=echarts.init(document.getElementById('c'),null,{renderer:'canvas',width:1610,height:2100});
chart.setOption({animation:false,backgroundColor:'#fff',grid:grids,xAxis:xAxes,yAxis:yAxes,visualMap:vmaps,series:series,graphic:{elements:gfx}});
</script></body></html>
